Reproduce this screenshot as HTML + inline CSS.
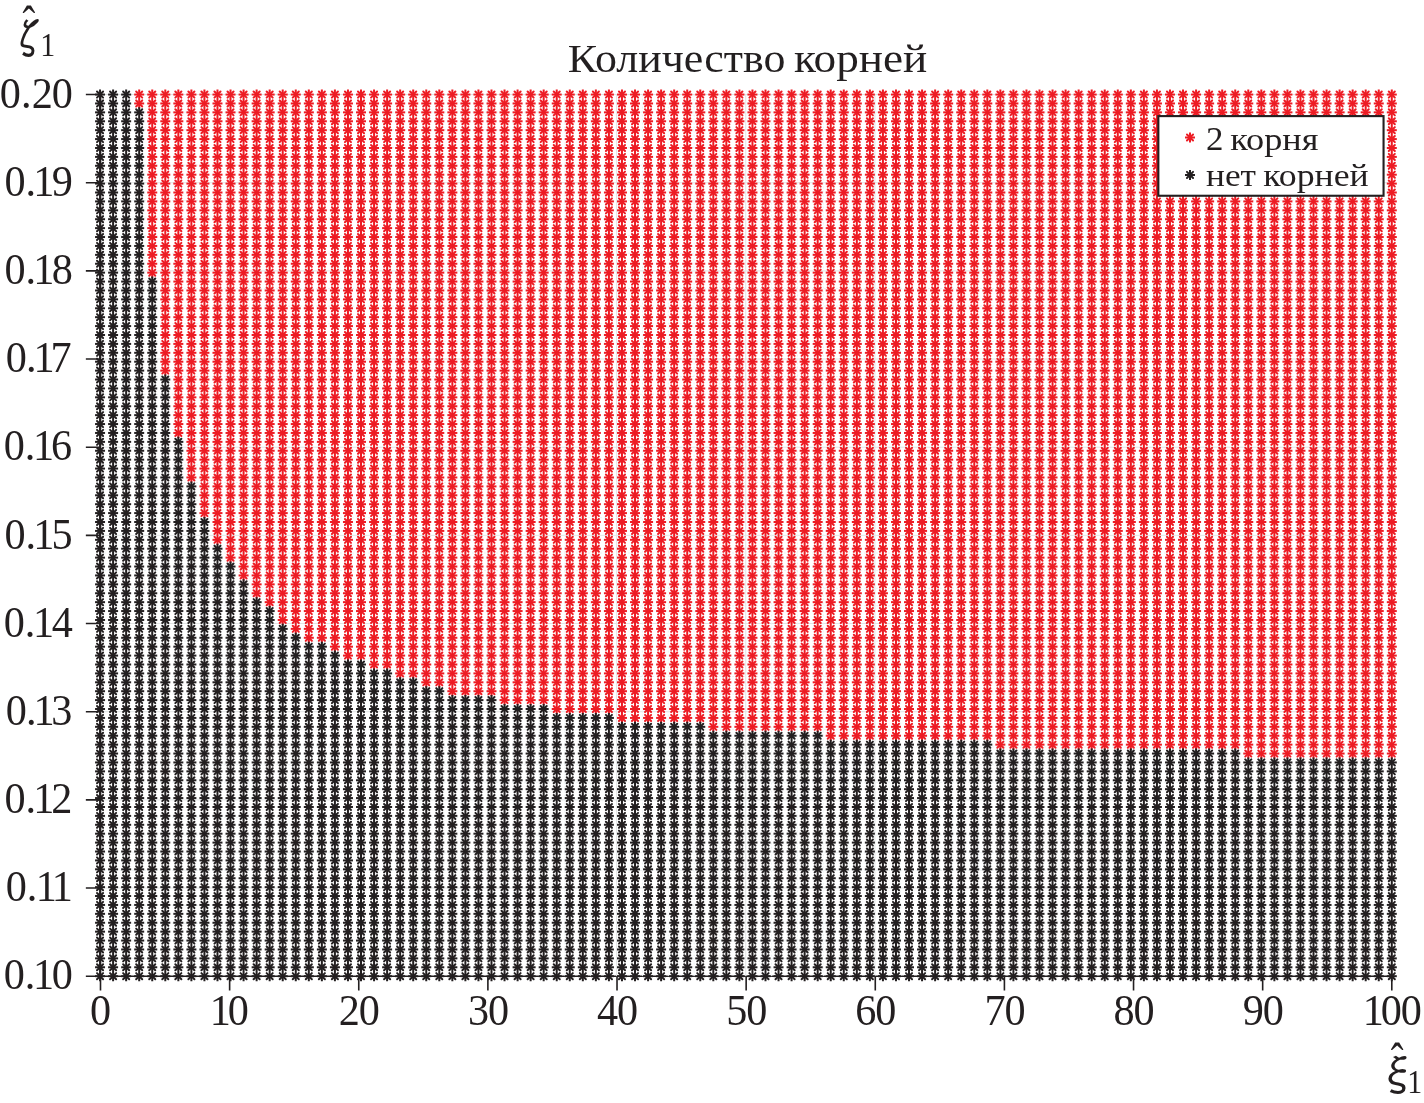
<!DOCTYPE html>
<html lang="ru">
<head>
<meta charset="utf-8">
<title>Количество корней</title>
<style>
html,body{margin:0;padding:0;background:#fff;}
body{width:1424px;height:1103px;overflow:hidden;}
svg{display:block;position:absolute;left:0;top:0;}
text{font-family:'Liberation Serif', serif;fill:#231f20;}
.g{font-family:IPAGothic,'Liberation Serif',serif;}
</style>
</head>
<body>
<svg width="1424" height="1103" viewBox="0 0 1424 1103">
<defs><marker id="r" markerWidth="12" markerHeight="12" refX="0" refY="0" viewBox="-6 -6 12 12" markerUnits="userSpaceOnUse" orient="0" overflow="visible"><path d="M-5 -0L5 0" stroke="#ed1c24" stroke-width="2.0" fill="none"/><path d="M-3.04 -3.04L3.04 3.04M3.04 -3.04L-3.04 3.04" stroke="#ed1c24" stroke-width="2.0" stroke-linecap="round" fill="none"/></marker><marker id="k" markerWidth="12" markerHeight="12" refX="0" refY="0" viewBox="-6 -6 12 12" markerUnits="userSpaceOnUse" orient="0" overflow="visible"><path d="M-5 -0L5 0" stroke="#231f20" stroke-width="2.0" fill="none"/><path d="M-3.04 -3.04L3.04 3.04M3.04 -3.04L-3.04 3.04" stroke="#231f20" stroke-width="2.0" stroke-linecap="round" fill="none"/></marker><marker id="lr" markerWidth="12" markerHeight="12" refX="0" refY="0" viewBox="-6 -6 12 12" markerUnits="userSpaceOnUse" orient="0" overflow="visible"><path d="M-5 -0L5 0M-0 -5L0 5" stroke="#ed1c24" stroke-width="2.0" fill="none"/><path d="M-3.04 -3.04L3.04 3.04M3.04 -3.04L-3.04 3.04" stroke="#ed1c24" stroke-width="2.0" stroke-linecap="round" fill="none"/></marker><marker id="lk" markerWidth="12" markerHeight="12" refX="0" refY="0" viewBox="-6 -6 12 12" markerUnits="userSpaceOnUse" orient="0" overflow="visible"><path d="M-5 -0L5 0M-0 -5L0 5" stroke="#231f20" stroke-width="2.0" fill="none"/><path d="M-3.04 -3.04L3.04 3.04M3.04 -3.04L-3.04 3.04" stroke="#231f20" stroke-width="2.0" stroke-linecap="round" fill="none"/></marker></defs>
<rect width="1424" height="1103" fill="#fff"/>
<g stroke="#231f20" stroke-width="1.6" fill="none">
<path d="M85.85 976.18H1392.6"/>
<path d="M100.5 93.75V990.58"/>
<path d="M229.63 976.18V990.58M358.76 976.18V990.58M487.89 976.18V990.58M617.02 976.18V990.58M746.15 976.18V990.58M875.28 976.18V990.58M1004.41 976.18V990.58M1133.54 976.18V990.58M1262.67 976.18V990.58M1391.8 976.18V990.58M85.85 888.02H100.05M85.85 799.85H100.05M85.85 711.69H100.05M85.85 623.53H100.05M85.85 535.37H100.05M85.85 447.2H100.05M85.85 359.04H100.05M85.85 270.88H100.05M85.85 182.71H100.05M85.85 94.55H100.05"/>
</g>
<path d="M229.23 94.55V976.18M358.36 94.55V976.18M487.49 94.55V976.18M616.62 94.55V976.18M745.75 94.55V976.18M874.88 94.55V976.18M1004.01 94.55V976.18M1133.14 94.55V976.18M1262.27 94.55V976.18M1391.4 94.55V976.18M100.05 888.02H1391.8M100.05 799.85H1391.8M100.05 711.69H1391.8M100.05 623.53H1391.8M100.05 535.37H1391.8M100.05 447.2H1391.8M100.05 359.04H1391.8M100.05 270.88H1391.8M100.05 182.71H1391.8M100.05 94.55H1391.8" stroke="#e2e5e5" stroke-width="1" fill="none"/>
<path d="M125.93 94.55V976.18M100.05 958.55H1391.8M151.75 94.55V976.18M100.05 940.91H1391.8M177.58 94.55V976.18M100.05 923.28H1391.8M203.4 94.55V976.18M100.05 905.65H1391.8M255.06 94.55V976.18M100.05 870.38H1391.8M280.88 94.55V976.18M100.05 852.75H1391.8M306.71 94.55V976.18M100.05 835.12H1391.8M332.53 94.55V976.18M100.05 817.49H1391.8M384.19 94.55V976.18M100.05 782.22H1391.8M410.01 94.55V976.18M100.05 764.59H1391.8M435.84 94.55V976.18M100.05 746.96H1391.8M461.66 94.55V976.18M100.05 729.32H1391.8M513.32 94.55V976.18M100.05 694.06H1391.8M539.14 94.55V976.18M100.05 676.43H1391.8M564.97 94.55V976.18M100.05 658.79H1391.8M590.79 94.55V976.18M100.05 641.16H1391.8M642.45 94.55V976.18M100.05 605.9H1391.8M668.27 94.55V976.18M100.05 588.26H1391.8M694.1 94.55V976.18M100.05 570.63H1391.8M719.92 94.55V976.18M100.05 553H1391.8M771.58 94.55V976.18M100.05 517.73H1391.8M797.4 94.55V976.18M100.05 500.1H1391.8M823.23 94.55V976.18M100.05 482.47H1391.8M849.05 94.55V976.18M100.05 464.83H1391.8M900.71 94.55V976.18M100.05 429.57H1391.8M926.53 94.55V976.18M100.05 411.94H1391.8M952.36 94.55V976.18M100.05 394.3H1391.8M978.18 94.55V976.18M100.05 376.67H1391.8M1029.84 94.55V976.18M100.05 341.41H1391.8M1055.66 94.55V976.18M100.05 323.77H1391.8M1081.49 94.55V976.18M100.05 306.14H1391.8M1107.31 94.55V976.18M100.05 288.51H1391.8M1158.97 94.55V976.18M100.05 253.24H1391.8M1184.79 94.55V976.18M100.05 235.61H1391.8M1210.62 94.55V976.18M100.05 217.98H1391.8M1236.44 94.55V976.18M100.05 200.35H1391.8M1288.1 94.55V976.18M100.05 165.08H1391.8M1313.92 94.55V976.18M100.05 147.45H1391.8M1339.75 94.55V976.18M100.05 129.82H1391.8M1365.57 94.55V976.18M100.05 112.18H1391.8" stroke="#eaf1f2" stroke-width="0.9" stroke-dasharray="2 2" fill="none"/>
<path d="M139.19 89.55V108.46M152.24 89.55V277.66M165.29 89.55V375.62M178.34 89.55V437.95M191.39 89.55V482.48M204.43 89.55V518.1M217.48 89.55V544.82M230.53 89.55V562.63M243.58 89.55V580.44M256.63 89.55V598.25M269.67 89.55V607.16M282.72 89.55V624.97M295.77 89.55V633.87M308.82 89.55V642.78M321.87 89.55V642.78M334.91 89.55V651.68M347.96 89.55V660.59M361.01 89.55V660.59M374.06 89.55V669.49M387.11 89.55V669.49M400.15 89.55V678.4M413.2 89.55V678.4M426.25 89.55V687.3M439.3 89.55V687.3M452.35 89.55V696.21M465.39 89.55V696.21M478.44 89.55V696.21M491.49 89.55V696.21M504.54 89.55V705.11M517.59 89.55V705.11M530.63 89.55V705.11M543.68 89.55V705.11M556.73 89.55V714.02M569.78 89.55V714.02M582.83 89.55V714.02M595.87 89.55V714.02M608.92 89.55V714.02M621.97 89.55V722.92M635.02 89.55V722.92M648.07 89.55V722.92M661.11 89.55V722.92M674.16 89.55V722.92M687.21 89.55V722.92M700.26 89.55V722.92M713.31 89.55V731.83M726.35 89.55V731.83M739.4 89.55V731.83M752.45 89.55V731.83M765.5 89.55V731.83M778.54 89.55V731.83M791.59 89.55V731.83M804.64 89.55V731.83M817.69 89.55V731.83M830.74 89.55V740.74M843.78 89.55V740.74M856.83 89.55V740.74M869.88 89.55V740.74M882.93 89.55V740.74M895.98 89.55V740.74M909.02 89.55V740.74M922.07 89.55V740.74M935.12 89.55V740.74M948.17 89.55V740.74M961.22 89.55V740.74M974.26 89.55V740.74M987.31 89.55V740.74M1000.36 89.55V749.64M1013.41 89.55V749.64M1026.46 89.55V749.64M1039.5 89.55V749.64M1052.55 89.55V749.64M1065.6 89.55V749.64M1078.65 89.55V749.64M1091.7 89.55V749.64M1104.74 89.55V749.64M1117.79 89.55V749.64M1130.84 89.55V749.64M1143.89 89.55V749.64M1156.94 89.55V749.64M1169.98 89.55V749.64M1183.03 89.55V749.64M1196.08 89.55V749.64M1209.13 89.55V749.64M1222.18 89.55V749.64M1235.22 89.55V749.64M1248.27 89.55V758.55M1261.32 89.55V758.55M1274.37 89.55V758.55M1287.42 89.55V758.55M1300.46 89.55V758.55M1313.51 89.55V758.55M1326.56 89.55V758.55M1339.61 89.55V758.55M1352.66 89.55V758.55M1365.7 89.55V758.55M1378.75 89.55V758.55M1391.8 89.55V758.55" fill="none" stroke="#ed1c24" stroke-width="2.0"/>
<path d="M139.19 94.55V103.46M152.24 94.55V103.46 112.36 121.27 130.17 139.08 147.98 156.89 165.79 174.7 183.6 192.51 201.41 210.32 219.22 228.13 237.04 245.94 254.85 263.75 272.66M165.29 94.55V103.46 112.36 121.27 130.17 139.08 147.98 156.89 165.79 174.7 183.6 192.51 201.41 210.32 219.22 228.13 237.04 245.94 254.85 263.75 272.66 281.56 290.47 299.37 308.28 317.18 326.09 334.99 343.9 352.81 361.71 370.62M178.34 94.55V103.46 112.36 121.27 130.17 139.08 147.98 156.89 165.79 174.7 183.6 192.51 201.41 210.32 219.22 228.13 237.04 245.94 254.85 263.75 272.66 281.56 290.47 299.37 308.28 317.18 326.09 334.99 343.9 352.81 361.71 370.62 379.52 388.43 397.33 406.24 415.14 424.05 432.95M191.39 94.55V103.46 112.36 121.27 130.17 139.08 147.98 156.89 165.79 174.7 183.6 192.51 201.41 210.32 219.22 228.13 237.04 245.94 254.85 263.75 272.66 281.56 290.47 299.37 308.28 317.18 326.09 334.99 343.9 352.81 361.71 370.62 379.52 388.43 397.33 406.24 415.14 424.05 432.95 441.86 450.76 459.67 468.57 477.48M204.43 94.55V103.46 112.36 121.27 130.17 139.08 147.98 156.89 165.79 174.7 183.6 192.51 201.41 210.32 219.22 228.13 237.04 245.94 254.85 263.75 272.66 281.56 290.47 299.37 308.28 317.18 326.09 334.99 343.9 352.81 361.71 370.62 379.52 388.43 397.33 406.24 415.14 424.05 432.95 441.86 450.76 459.67 468.57 477.48 486.39 495.29 504.2 513.1M217.48 94.55V103.46 112.36 121.27 130.17 139.08 147.98 156.89 165.79 174.7 183.6 192.51 201.41 210.32 219.22 228.13 237.04 245.94 254.85 263.75 272.66 281.56 290.47 299.37 308.28 317.18 326.09 334.99 343.9 352.81 361.71 370.62 379.52 388.43 397.33 406.24 415.14 424.05 432.95 441.86 450.76 459.67 468.57 477.48 486.39 495.29 504.2 513.1 522.01 530.91 539.82M230.53 94.55V103.46 112.36 121.27 130.17 139.08 147.98 156.89 165.79 174.7 183.6 192.51 201.41 210.32 219.22 228.13 237.04 245.94 254.85 263.75 272.66 281.56 290.47 299.37 308.28 317.18 326.09 334.99 343.9 352.81 361.71 370.62 379.52 388.43 397.33 406.24 415.14 424.05 432.95 441.86 450.76 459.67 468.57 477.48 486.39 495.29 504.2 513.1 522.01 530.91 539.82 548.72 557.63M243.58 94.55V103.46 112.36 121.27 130.17 139.08 147.98 156.89 165.79 174.7 183.6 192.51 201.41 210.32 219.22 228.13 237.04 245.94 254.85 263.75 272.66 281.56 290.47 299.37 308.28 317.18 326.09 334.99 343.9 352.81 361.71 370.62 379.52 388.43 397.33 406.24 415.14 424.05 432.95 441.86 450.76 459.67 468.57 477.48 486.39 495.29 504.2 513.1 522.01 530.91 539.82 548.72 557.63 566.53 575.44M256.63 94.55V103.46 112.36 121.27 130.17 139.08 147.98 156.89 165.79 174.7 183.6 192.51 201.41 210.32 219.22 228.13 237.04 245.94 254.85 263.75 272.66 281.56 290.47 299.37 308.28 317.18 326.09 334.99 343.9 352.81 361.71 370.62 379.52 388.43 397.33 406.24 415.14 424.05 432.95 441.86 450.76 459.67 468.57 477.48 486.39 495.29 504.2 513.1 522.01 530.91 539.82 548.72 557.63 566.53 575.44 584.34 593.25M269.67 94.55V103.46 112.36 121.27 130.17 139.08 147.98 156.89 165.79 174.7 183.6 192.51 201.41 210.32 219.22 228.13 237.04 245.94 254.85 263.75 272.66 281.56 290.47 299.37 308.28 317.18 326.09 334.99 343.9 352.81 361.71 370.62 379.52 388.43 397.33 406.24 415.14 424.05 432.95 441.86 450.76 459.67 468.57 477.48 486.39 495.29 504.2 513.1 522.01 530.91 539.82 548.72 557.63 566.53 575.44 584.34 593.25 602.16M282.72 94.55V103.46 112.36 121.27 130.17 139.08 147.98 156.89 165.79 174.7 183.6 192.51 201.41 210.32 219.22 228.13 237.04 245.94 254.85 263.75 272.66 281.56 290.47 299.37 308.28 317.18 326.09 334.99 343.9 352.81 361.71 370.62 379.52 388.43 397.33 406.24 415.14 424.05 432.95 441.86 450.76 459.67 468.57 477.48 486.39 495.29 504.2 513.1 522.01 530.91 539.82 548.72 557.63 566.53 575.44 584.34 593.25 602.16 611.06 619.97M295.77 94.55V103.46 112.36 121.27 130.17 139.08 147.98 156.89 165.79 174.7 183.6 192.51 201.41 210.32 219.22 228.13 237.04 245.94 254.85 263.75 272.66 281.56 290.47 299.37 308.28 317.18 326.09 334.99 343.9 352.81 361.71 370.62 379.52 388.43 397.33 406.24 415.14 424.05 432.95 441.86 450.76 459.67 468.57 477.48 486.39 495.29 504.2 513.1 522.01 530.91 539.82 548.72 557.63 566.53 575.44 584.34 593.25 602.16 611.06 619.97 628.87M308.82 94.55V103.46 112.36 121.27 130.17 139.08 147.98 156.89 165.79 174.7 183.6 192.51 201.41 210.32 219.22 228.13 237.04 245.94 254.85 263.75 272.66 281.56 290.47 299.37 308.28 317.18 326.09 334.99 343.9 352.81 361.71 370.62 379.52 388.43 397.33 406.24 415.14 424.05 432.95 441.86 450.76 459.67 468.57 477.48 486.39 495.29 504.2 513.1 522.01 530.91 539.82 548.72 557.63 566.53 575.44 584.34 593.25 602.16 611.06 619.97 628.87 637.78M321.87 94.55V103.46 112.36 121.27 130.17 139.08 147.98 156.89 165.79 174.7 183.6 192.51 201.41 210.32 219.22 228.13 237.04 245.94 254.85 263.75 272.66 281.56 290.47 299.37 308.28 317.18 326.09 334.99 343.9 352.81 361.71 370.62 379.52 388.43 397.33 406.24 415.14 424.05 432.95 441.86 450.76 459.67 468.57 477.48 486.39 495.29 504.2 513.1 522.01 530.91 539.82 548.72 557.63 566.53 575.44 584.34 593.25 602.16 611.06 619.97 628.87 637.78M334.91 94.55V103.46 112.36 121.27 130.17 139.08 147.98 156.89 165.79 174.7 183.6 192.51 201.41 210.32 219.22 228.13 237.04 245.94 254.85 263.75 272.66 281.56 290.47 299.37 308.28 317.18 326.09 334.99 343.9 352.81 361.71 370.62 379.52 388.43 397.33 406.24 415.14 424.05 432.95 441.86 450.76 459.67 468.57 477.48 486.39 495.29 504.2 513.1 522.01 530.91 539.82 548.72 557.63 566.53 575.44 584.34 593.25 602.16 611.06 619.97 628.87 637.78 646.68M347.96 94.55V103.46 112.36 121.27 130.17 139.08 147.98 156.89 165.79 174.7 183.6 192.51 201.41 210.32 219.22 228.13 237.04 245.94 254.85 263.75 272.66 281.56 290.47 299.37 308.28 317.18 326.09 334.99 343.9 352.81 361.71 370.62 379.52 388.43 397.33 406.24 415.14 424.05 432.95 441.86 450.76 459.67 468.57 477.48 486.39 495.29 504.2 513.1 522.01 530.91 539.82 548.72 557.63 566.53 575.44 584.34 593.25 602.16 611.06 619.97 628.87 637.78 646.68 655.59M361.01 94.55V103.46 112.36 121.27 130.17 139.08 147.98 156.89 165.79 174.7 183.6 192.51 201.41 210.32 219.22 228.13 237.04 245.94 254.85 263.75 272.66 281.56 290.47 299.37 308.28 317.18 326.09 334.99 343.9 352.81 361.71 370.62 379.52 388.43 397.33 406.24 415.14 424.05 432.95 441.86 450.76 459.67 468.57 477.48 486.39 495.29 504.2 513.1 522.01 530.91 539.82 548.72 557.63 566.53 575.44 584.34 593.25 602.16 611.06 619.97 628.87 637.78 646.68 655.59M374.06 94.55V103.46 112.36 121.27 130.17 139.08 147.98 156.89 165.79 174.7 183.6 192.51 201.41 210.32 219.22 228.13 237.04 245.94 254.85 263.75 272.66 281.56 290.47 299.37 308.28 317.18 326.09 334.99 343.9 352.81 361.71 370.62 379.52 388.43 397.33 406.24 415.14 424.05 432.95 441.86 450.76 459.67 468.57 477.48 486.39 495.29 504.2 513.1 522.01 530.91 539.82 548.72 557.63 566.53 575.44 584.34 593.25 602.16 611.06 619.97 628.87 637.78 646.68 655.59 664.49M387.11 94.55V103.46 112.36 121.27 130.17 139.08 147.98 156.89 165.79 174.7 183.6 192.51 201.41 210.32 219.22 228.13 237.04 245.94 254.85 263.75 272.66 281.56 290.47 299.37 308.28 317.18 326.09 334.99 343.9 352.81 361.71 370.62 379.52 388.43 397.33 406.24 415.14 424.05 432.95 441.86 450.76 459.67 468.57 477.48 486.39 495.29 504.2 513.1 522.01 530.91 539.82 548.72 557.63 566.53 575.44 584.34 593.25 602.16 611.06 619.97 628.87 637.78 646.68 655.59 664.49M400.15 94.55V103.46 112.36 121.27 130.17 139.08 147.98 156.89 165.79 174.7 183.6 192.51 201.41 210.32 219.22 228.13 237.04 245.94 254.85 263.75 272.66 281.56 290.47 299.37 308.28 317.18 326.09 334.99 343.9 352.81 361.71 370.62 379.52 388.43 397.33 406.24 415.14 424.05 432.95 441.86 450.76 459.67 468.57 477.48 486.39 495.29 504.2 513.1 522.01 530.91 539.82 548.72 557.63 566.53 575.44 584.34 593.25 602.16 611.06 619.97 628.87 637.78 646.68 655.59 664.49 673.4M413.2 94.55V103.46 112.36 121.27 130.17 139.08 147.98 156.89 165.79 174.7 183.6 192.51 201.41 210.32 219.22 228.13 237.04 245.94 254.85 263.75 272.66 281.56 290.47 299.37 308.28 317.18 326.09 334.99 343.9 352.81 361.71 370.62 379.52 388.43 397.33 406.24 415.14 424.05 432.95 441.86 450.76 459.67 468.57 477.48 486.39 495.29 504.2 513.1 522.01 530.91 539.82 548.72 557.63 566.53 575.44 584.34 593.25 602.16 611.06 619.97 628.87 637.78 646.68 655.59 664.49 673.4M426.25 94.55V103.46 112.36 121.27 130.17 139.08 147.98 156.89 165.79 174.7 183.6 192.51 201.41 210.32 219.22 228.13 237.04 245.94 254.85 263.75 272.66 281.56 290.47 299.37 308.28 317.18 326.09 334.99 343.9 352.81 361.71 370.62 379.52 388.43 397.33 406.24 415.14 424.05 432.95 441.86 450.76 459.67 468.57 477.48 486.39 495.29 504.2 513.1 522.01 530.91 539.82 548.72 557.63 566.53 575.44 584.34 593.25 602.16 611.06 619.97 628.87 637.78 646.68 655.59 664.49 673.4 682.3M439.3 94.55V103.46 112.36 121.27 130.17 139.08 147.98 156.89 165.79 174.7 183.6 192.51 201.41 210.32 219.22 228.13 237.04 245.94 254.85 263.75 272.66 281.56 290.47 299.37 308.28 317.18 326.09 334.99 343.9 352.81 361.71 370.62 379.52 388.43 397.33 406.24 415.14 424.05 432.95 441.86 450.76 459.67 468.57 477.48 486.39 495.29 504.2 513.1 522.01 530.91 539.82 548.72 557.63 566.53 575.44 584.34 593.25 602.16 611.06 619.97 628.87 637.78 646.68 655.59 664.49 673.4 682.3M452.35 94.55V103.46 112.36 121.27 130.17 139.08 147.98 156.89 165.79 174.7 183.6 192.51 201.41 210.32 219.22 228.13 237.04 245.94 254.85 263.75 272.66 281.56 290.47 299.37 308.28 317.18 326.09 334.99 343.9 352.81 361.71 370.62 379.52 388.43 397.33 406.24 415.14 424.05 432.95 441.86 450.76 459.67 468.57 477.48 486.39 495.29 504.2 513.1 522.01 530.91 539.82 548.72 557.63 566.53 575.44 584.34 593.25 602.16 611.06 619.97 628.87 637.78 646.68 655.59 664.49 673.4 682.3 691.21M465.39 94.55V103.46 112.36 121.27 130.17 139.08 147.98 156.89 165.79 174.7 183.6 192.51 201.41 210.32 219.22 228.13 237.04 245.94 254.85 263.75 272.66 281.56 290.47 299.37 308.28 317.18 326.09 334.99 343.9 352.81 361.71 370.62 379.52 388.43 397.33 406.24 415.14 424.05 432.95 441.86 450.76 459.67 468.57 477.48 486.39 495.29 504.2 513.1 522.01 530.91 539.82 548.72 557.63 566.53 575.44 584.34 593.25 602.16 611.06 619.97 628.87 637.78 646.68 655.59 664.49 673.4 682.3 691.21M478.44 94.55V103.46 112.36 121.27 130.17 139.08 147.98 156.89 165.79 174.7 183.6 192.51 201.41 210.32 219.22 228.13 237.04 245.94 254.85 263.75 272.66 281.56 290.47 299.37 308.28 317.18 326.09 334.99 343.9 352.81 361.71 370.62 379.52 388.43 397.33 406.24 415.14 424.05 432.95 441.86 450.76 459.67 468.57 477.48 486.39 495.29 504.2 513.1 522.01 530.91 539.82 548.72 557.63 566.53 575.44 584.34 593.25 602.16 611.06 619.97 628.87 637.78 646.68 655.59 664.49 673.4 682.3 691.21M491.49 94.55V103.46 112.36 121.27 130.17 139.08 147.98 156.89 165.79 174.7 183.6 192.51 201.41 210.32 219.22 228.13 237.04 245.94 254.85 263.75 272.66 281.56 290.47 299.37 308.28 317.18 326.09 334.99 343.9 352.81 361.71 370.62 379.52 388.43 397.33 406.24 415.14 424.05 432.95 441.86 450.76 459.67 468.57 477.48 486.39 495.29 504.2 513.1 522.01 530.91 539.82 548.72 557.63 566.53 575.44 584.34 593.25 602.16 611.06 619.97 628.87 637.78 646.68 655.59 664.49 673.4 682.3 691.21M504.54 94.55V103.46 112.36 121.27 130.17 139.08 147.98 156.89 165.79 174.7 183.6 192.51 201.41 210.32 219.22 228.13 237.04 245.94 254.85 263.75 272.66 281.56 290.47 299.37 308.28 317.18 326.09 334.99 343.9 352.81 361.71 370.62 379.52 388.43 397.33 406.24 415.14 424.05 432.95 441.86 450.76 459.67 468.57 477.48 486.39 495.29 504.2 513.1 522.01 530.91 539.82 548.72 557.63 566.53 575.44 584.34 593.25 602.16 611.06 619.97 628.87 637.78 646.68 655.59 664.49 673.4 682.3 691.21 700.11M517.59 94.55V103.46 112.36 121.27 130.17 139.08 147.98 156.89 165.79 174.7 183.6 192.51 201.41 210.32 219.22 228.13 237.04 245.94 254.85 263.75 272.66 281.56 290.47 299.37 308.28 317.18 326.09 334.99 343.9 352.81 361.71 370.62 379.52 388.43 397.33 406.24 415.14 424.05 432.95 441.86 450.76 459.67 468.57 477.48 486.39 495.29 504.2 513.1 522.01 530.91 539.82 548.72 557.63 566.53 575.44 584.34 593.25 602.16 611.06 619.97 628.87 637.78 646.68 655.59 664.49 673.4 682.3 691.21 700.11M530.63 94.55V103.46 112.36 121.27 130.17 139.08 147.98 156.89 165.79 174.7 183.6 192.51 201.41 210.32 219.22 228.13 237.04 245.94 254.85 263.75 272.66 281.56 290.47 299.37 308.28 317.18 326.09 334.99 343.9 352.81 361.71 370.62 379.52 388.43 397.33 406.24 415.14 424.05 432.95 441.86 450.76 459.67 468.57 477.48 486.39 495.29 504.2 513.1 522.01 530.91 539.82 548.72 557.63 566.53 575.44 584.34 593.25 602.16 611.06 619.97 628.87 637.78 646.68 655.59 664.49 673.4 682.3 691.21 700.11M543.68 94.55V103.46 112.36 121.27 130.17 139.08 147.98 156.89 165.79 174.7 183.6 192.51 201.41 210.32 219.22 228.13 237.04 245.94 254.85 263.75 272.66 281.56 290.47 299.37 308.28 317.18 326.09 334.99 343.9 352.81 361.71 370.62 379.52 388.43 397.33 406.24 415.14 424.05 432.95 441.86 450.76 459.67 468.57 477.48 486.39 495.29 504.2 513.1 522.01 530.91 539.82 548.72 557.63 566.53 575.44 584.34 593.25 602.16 611.06 619.97 628.87 637.78 646.68 655.59 664.49 673.4 682.3 691.21 700.11M556.73 94.55V103.46 112.36 121.27 130.17 139.08 147.98 156.89 165.79 174.7 183.6 192.51 201.41 210.32 219.22 228.13 237.04 245.94 254.85 263.75 272.66 281.56 290.47 299.37 308.28 317.18 326.09 334.99 343.9 352.81 361.71 370.62 379.52 388.43 397.33 406.24 415.14 424.05 432.95 441.86 450.76 459.67 468.57 477.48 486.39 495.29 504.2 513.1 522.01 530.91 539.82 548.72 557.63 566.53 575.44 584.34 593.25 602.16 611.06 619.97 628.87 637.78 646.68 655.59 664.49 673.4 682.3 691.21 700.11 709.02M569.78 94.55V103.46 112.36 121.27 130.17 139.08 147.98 156.89 165.79 174.7 183.6 192.51 201.41 210.32 219.22 228.13 237.04 245.94 254.85 263.75 272.66 281.56 290.47 299.37 308.28 317.18 326.09 334.99 343.9 352.81 361.71 370.62 379.52 388.43 397.33 406.24 415.14 424.05 432.95 441.86 450.76 459.67 468.57 477.48 486.39 495.29 504.2 513.1 522.01 530.91 539.82 548.72 557.63 566.53 575.44 584.34 593.25 602.16 611.06 619.97 628.87 637.78 646.68 655.59 664.49 673.4 682.3 691.21 700.11 709.02M582.83 94.55V103.46 112.36 121.27 130.17 139.08 147.98 156.89 165.79 174.7 183.6 192.51 201.41 210.32 219.22 228.13 237.04 245.94 254.85 263.75 272.66 281.56 290.47 299.37 308.28 317.18 326.09 334.99 343.9 352.81 361.71 370.62 379.52 388.43 397.33 406.24 415.14 424.05 432.95 441.86 450.76 459.67 468.57 477.48 486.39 495.29 504.2 513.1 522.01 530.91 539.82 548.72 557.63 566.53 575.44 584.34 593.25 602.16 611.06 619.97 628.87 637.78 646.68 655.59 664.49 673.4 682.3 691.21 700.11 709.02M595.87 94.55V103.46 112.36 121.27 130.17 139.08 147.98 156.89 165.79 174.7 183.6 192.51 201.41 210.32 219.22 228.13 237.04 245.94 254.85 263.75 272.66 281.56 290.47 299.37 308.28 317.18 326.09 334.99 343.9 352.81 361.71 370.62 379.52 388.43 397.33 406.24 415.14 424.05 432.95 441.86 450.76 459.67 468.57 477.48 486.39 495.29 504.2 513.1 522.01 530.91 539.82 548.72 557.63 566.53 575.44 584.34 593.25 602.16 611.06 619.97 628.87 637.78 646.68 655.59 664.49 673.4 682.3 691.21 700.11 709.02M608.92 94.55V103.46 112.36 121.27 130.17 139.08 147.98 156.89 165.79 174.7 183.6 192.51 201.41 210.32 219.22 228.13 237.04 245.94 254.85 263.75 272.66 281.56 290.47 299.37 308.28 317.18 326.09 334.99 343.9 352.81 361.71 370.62 379.52 388.43 397.33 406.24 415.14 424.05 432.95 441.86 450.76 459.67 468.57 477.48 486.39 495.29 504.2 513.1 522.01 530.91 539.82 548.72 557.63 566.53 575.44 584.34 593.25 602.16 611.06 619.97 628.87 637.78 646.68 655.59 664.49 673.4 682.3 691.21 700.11 709.02M621.97 94.55V103.46 112.36 121.27 130.17 139.08 147.98 156.89 165.79 174.7 183.6 192.51 201.41 210.32 219.22 228.13 237.04 245.94 254.85 263.75 272.66 281.56 290.47 299.37 308.28 317.18 326.09 334.99 343.9 352.81 361.71 370.62 379.52 388.43 397.33 406.24 415.14 424.05 432.95 441.86 450.76 459.67 468.57 477.48 486.39 495.29 504.2 513.1 522.01 530.91 539.82 548.72 557.63 566.53 575.44 584.34 593.25 602.16 611.06 619.97 628.87 637.78 646.68 655.59 664.49 673.4 682.3 691.21 700.11 709.02 717.92M635.02 94.55V103.46 112.36 121.27 130.17 139.08 147.98 156.89 165.79 174.7 183.6 192.51 201.41 210.32 219.22 228.13 237.04 245.94 254.85 263.75 272.66 281.56 290.47 299.37 308.28 317.18 326.09 334.99 343.9 352.81 361.71 370.62 379.52 388.43 397.33 406.24 415.14 424.05 432.95 441.86 450.76 459.67 468.57 477.48 486.39 495.29 504.2 513.1 522.01 530.91 539.82 548.72 557.63 566.53 575.44 584.34 593.25 602.16 611.06 619.97 628.87 637.78 646.68 655.59 664.49 673.4 682.3 691.21 700.11 709.02 717.92M648.07 94.55V103.46 112.36 121.27 130.17 139.08 147.98 156.89 165.79 174.7 183.6 192.51 201.41 210.32 219.22 228.13 237.04 245.94 254.85 263.75 272.66 281.56 290.47 299.37 308.28 317.18 326.09 334.99 343.9 352.81 361.71 370.62 379.52 388.43 397.33 406.24 415.14 424.05 432.95 441.86 450.76 459.67 468.57 477.48 486.39 495.29 504.2 513.1 522.01 530.91 539.82 548.72 557.63 566.53 575.44 584.34 593.25 602.16 611.06 619.97 628.87 637.78 646.68 655.59 664.49 673.4 682.3 691.21 700.11 709.02 717.92M661.11 94.55V103.46 112.36 121.27 130.17 139.08 147.98 156.89 165.79 174.7 183.6 192.51 201.41 210.32 219.22 228.13 237.04 245.94 254.85 263.75 272.66 281.56 290.47 299.37 308.28 317.18 326.09 334.99 343.9 352.81 361.71 370.62 379.52 388.43 397.33 406.24 415.14 424.05 432.95 441.86 450.76 459.67 468.57 477.48 486.39 495.29 504.2 513.1 522.01 530.91 539.82 548.72 557.63 566.53 575.44 584.34 593.25 602.16 611.06 619.97 628.87 637.78 646.68 655.59 664.49 673.4 682.3 691.21 700.11 709.02 717.92M674.16 94.55V103.46 112.36 121.27 130.17 139.08 147.98 156.89 165.79 174.7 183.6 192.51 201.41 210.32 219.22 228.13 237.04 245.94 254.85 263.75 272.66 281.56 290.47 299.37 308.28 317.18 326.09 334.99 343.9 352.81 361.71 370.62 379.52 388.43 397.33 406.24 415.14 424.05 432.95 441.86 450.76 459.67 468.57 477.48 486.39 495.29 504.2 513.1 522.01 530.91 539.82 548.72 557.63 566.53 575.44 584.34 593.25 602.16 611.06 619.97 628.87 637.78 646.68 655.59 664.49 673.4 682.3 691.21 700.11 709.02 717.92M687.21 94.55V103.46 112.36 121.27 130.17 139.08 147.98 156.89 165.79 174.7 183.6 192.51 201.41 210.32 219.22 228.13 237.04 245.94 254.85 263.75 272.66 281.56 290.47 299.37 308.28 317.18 326.09 334.99 343.9 352.81 361.71 370.62 379.52 388.43 397.33 406.24 415.14 424.05 432.95 441.86 450.76 459.67 468.57 477.48 486.39 495.29 504.2 513.1 522.01 530.91 539.82 548.72 557.63 566.53 575.44 584.34 593.25 602.16 611.06 619.97 628.87 637.78 646.68 655.59 664.49 673.4 682.3 691.21 700.11 709.02 717.92M700.26 94.55V103.46 112.36 121.27 130.17 139.08 147.98 156.89 165.79 174.7 183.6 192.51 201.41 210.32 219.22 228.13 237.04 245.94 254.85 263.75 272.66 281.56 290.47 299.37 308.28 317.18 326.09 334.99 343.9 352.81 361.71 370.62 379.52 388.43 397.33 406.24 415.14 424.05 432.95 441.86 450.76 459.67 468.57 477.48 486.39 495.29 504.2 513.1 522.01 530.91 539.82 548.72 557.63 566.53 575.44 584.34 593.25 602.16 611.06 619.97 628.87 637.78 646.68 655.59 664.49 673.4 682.3 691.21 700.11 709.02 717.92M713.31 94.55V103.46 112.36 121.27 130.17 139.08 147.98 156.89 165.79 174.7 183.6 192.51 201.41 210.32 219.22 228.13 237.04 245.94 254.85 263.75 272.66 281.56 290.47 299.37 308.28 317.18 326.09 334.99 343.9 352.81 361.71 370.62 379.52 388.43 397.33 406.24 415.14 424.05 432.95 441.86 450.76 459.67 468.57 477.48 486.39 495.29 504.2 513.1 522.01 530.91 539.82 548.72 557.63 566.53 575.44 584.34 593.25 602.16 611.06 619.97 628.87 637.78 646.68 655.59 664.49 673.4 682.3 691.21 700.11 709.02 717.92 726.83M726.35 94.55V103.46 112.36 121.27 130.17 139.08 147.98 156.89 165.79 174.7 183.6 192.51 201.41 210.32 219.22 228.13 237.04 245.94 254.85 263.75 272.66 281.56 290.47 299.37 308.28 317.18 326.09 334.99 343.9 352.81 361.71 370.62 379.52 388.43 397.33 406.24 415.14 424.05 432.95 441.86 450.76 459.67 468.57 477.48 486.39 495.29 504.2 513.1 522.01 530.91 539.82 548.72 557.63 566.53 575.44 584.34 593.25 602.16 611.06 619.97 628.87 637.78 646.68 655.59 664.49 673.4 682.3 691.21 700.11 709.02 717.92 726.83M739.4 94.55V103.46 112.36 121.27 130.17 139.08 147.98 156.89 165.79 174.7 183.6 192.51 201.41 210.32 219.22 228.13 237.04 245.94 254.85 263.75 272.66 281.56 290.47 299.37 308.28 317.18 326.09 334.99 343.9 352.81 361.71 370.62 379.52 388.43 397.33 406.24 415.14 424.05 432.95 441.86 450.76 459.67 468.57 477.48 486.39 495.29 504.2 513.1 522.01 530.91 539.82 548.72 557.63 566.53 575.44 584.34 593.25 602.16 611.06 619.97 628.87 637.78 646.68 655.59 664.49 673.4 682.3 691.21 700.11 709.02 717.92 726.83M752.45 94.55V103.46 112.36 121.27 130.17 139.08 147.98 156.89 165.79 174.7 183.6 192.51 201.41 210.32 219.22 228.13 237.04 245.94 254.85 263.75 272.66 281.56 290.47 299.37 308.28 317.18 326.09 334.99 343.9 352.81 361.71 370.62 379.52 388.43 397.33 406.24 415.14 424.05 432.95 441.86 450.76 459.67 468.57 477.48 486.39 495.29 504.2 513.1 522.01 530.91 539.82 548.72 557.63 566.53 575.44 584.34 593.25 602.16 611.06 619.97 628.87 637.78 646.68 655.59 664.49 673.4 682.3 691.21 700.11 709.02 717.92 726.83M765.5 94.55V103.46 112.36 121.27 130.17 139.08 147.98 156.89 165.79 174.7 183.6 192.51 201.41 210.32 219.22 228.13 237.04 245.94 254.85 263.75 272.66 281.56 290.47 299.37 308.28 317.18 326.09 334.99 343.9 352.81 361.71 370.62 379.52 388.43 397.33 406.24 415.14 424.05 432.95 441.86 450.76 459.67 468.57 477.48 486.39 495.29 504.2 513.1 522.01 530.91 539.82 548.72 557.63 566.53 575.44 584.34 593.25 602.16 611.06 619.97 628.87 637.78 646.68 655.59 664.49 673.4 682.3 691.21 700.11 709.02 717.92 726.83M778.54 94.55V103.46 112.36 121.27 130.17 139.08 147.98 156.89 165.79 174.7 183.6 192.51 201.41 210.32 219.22 228.13 237.04 245.94 254.85 263.75 272.66 281.56 290.47 299.37 308.28 317.18 326.09 334.99 343.9 352.81 361.71 370.62 379.52 388.43 397.33 406.24 415.14 424.05 432.95 441.86 450.76 459.67 468.57 477.48 486.39 495.29 504.2 513.1 522.01 530.91 539.82 548.72 557.63 566.53 575.44 584.34 593.25 602.16 611.06 619.97 628.87 637.78 646.68 655.59 664.49 673.4 682.3 691.21 700.11 709.02 717.92 726.83M791.59 94.55V103.46 112.36 121.27 130.17 139.08 147.98 156.89 165.79 174.7 183.6 192.51 201.41 210.32 219.22 228.13 237.04 245.94 254.85 263.75 272.66 281.56 290.47 299.37 308.28 317.18 326.09 334.99 343.9 352.81 361.71 370.62 379.52 388.43 397.33 406.24 415.14 424.05 432.95 441.86 450.76 459.67 468.57 477.48 486.39 495.29 504.2 513.1 522.01 530.91 539.82 548.72 557.63 566.53 575.44 584.34 593.25 602.16 611.06 619.97 628.87 637.78 646.68 655.59 664.49 673.4 682.3 691.21 700.11 709.02 717.92 726.83M804.64 94.55V103.46 112.36 121.27 130.17 139.08 147.98 156.89 165.79 174.7 183.6 192.51 201.41 210.32 219.22 228.13 237.04 245.94 254.85 263.75 272.66 281.56 290.47 299.37 308.28 317.18 326.09 334.99 343.9 352.81 361.71 370.62 379.52 388.43 397.33 406.24 415.14 424.05 432.95 441.86 450.76 459.67 468.57 477.48 486.39 495.29 504.2 513.1 522.01 530.91 539.82 548.72 557.63 566.53 575.44 584.34 593.25 602.16 611.06 619.97 628.87 637.78 646.68 655.59 664.49 673.4 682.3 691.21 700.11 709.02 717.92 726.83M817.69 94.55V103.46 112.36 121.27 130.17 139.08 147.98 156.89 165.79 174.7 183.6 192.51 201.41 210.32 219.22 228.13 237.04 245.94 254.85 263.75 272.66 281.56 290.47 299.37 308.28 317.18 326.09 334.99 343.9 352.81 361.71 370.62 379.52 388.43 397.33 406.24 415.14 424.05 432.95 441.86 450.76 459.67 468.57 477.48 486.39 495.29 504.2 513.1 522.01 530.91 539.82 548.72 557.63 566.53 575.44 584.34 593.25 602.16 611.06 619.97 628.87 637.78 646.68 655.59 664.49 673.4 682.3 691.21 700.11 709.02 717.92 726.83M830.74 94.55V103.46 112.36 121.27 130.17 139.08 147.98 156.89 165.79 174.7 183.6 192.51 201.41 210.32 219.22 228.13 237.04 245.94 254.85 263.75 272.66 281.56 290.47 299.37 308.28 317.18 326.09 334.99 343.9 352.81 361.71 370.62 379.52 388.43 397.33 406.24 415.14 424.05 432.95 441.86 450.76 459.67 468.57 477.48 486.39 495.29 504.2 513.1 522.01 530.91 539.82 548.72 557.63 566.53 575.44 584.34 593.25 602.16 611.06 619.97 628.87 637.78 646.68 655.59 664.49 673.4 682.3 691.21 700.11 709.02 717.92 726.83 735.74M843.78 94.55V103.46 112.36 121.27 130.17 139.08 147.98 156.89 165.79 174.7 183.6 192.51 201.41 210.32 219.22 228.13 237.04 245.94 254.85 263.75 272.66 281.56 290.47 299.37 308.28 317.18 326.09 334.99 343.9 352.81 361.71 370.62 379.52 388.43 397.33 406.24 415.14 424.05 432.95 441.86 450.76 459.67 468.57 477.48 486.39 495.29 504.2 513.1 522.01 530.91 539.82 548.72 557.63 566.53 575.44 584.34 593.25 602.16 611.06 619.97 628.87 637.78 646.68 655.59 664.49 673.4 682.3 691.21 700.11 709.02 717.92 726.83 735.74M856.83 94.55V103.46 112.36 121.27 130.17 139.08 147.98 156.89 165.79 174.7 183.6 192.51 201.41 210.32 219.22 228.13 237.04 245.94 254.85 263.75 272.66 281.56 290.47 299.37 308.28 317.18 326.09 334.99 343.9 352.81 361.71 370.62 379.52 388.43 397.33 406.24 415.14 424.05 432.95 441.86 450.76 459.67 468.57 477.48 486.39 495.29 504.2 513.1 522.01 530.91 539.82 548.72 557.63 566.53 575.44 584.34 593.25 602.16 611.06 619.97 628.87 637.78 646.68 655.59 664.49 673.4 682.3 691.21 700.11 709.02 717.92 726.83 735.74M869.88 94.55V103.46 112.36 121.27 130.17 139.08 147.98 156.89 165.79 174.7 183.6 192.51 201.41 210.32 219.22 228.13 237.04 245.94 254.85 263.75 272.66 281.56 290.47 299.37 308.28 317.18 326.09 334.99 343.9 352.81 361.71 370.62 379.52 388.43 397.33 406.24 415.14 424.05 432.95 441.86 450.76 459.67 468.57 477.48 486.39 495.29 504.2 513.1 522.01 530.91 539.82 548.72 557.63 566.53 575.44 584.34 593.25 602.16 611.06 619.97 628.87 637.78 646.68 655.59 664.49 673.4 682.3 691.21 700.11 709.02 717.92 726.83 735.74M882.93 94.55V103.46 112.36 121.27 130.17 139.08 147.98 156.89 165.79 174.7 183.6 192.51 201.41 210.32 219.22 228.13 237.04 245.94 254.85 263.75 272.66 281.56 290.47 299.37 308.28 317.18 326.09 334.99 343.9 352.81 361.71 370.62 379.52 388.43 397.33 406.24 415.14 424.05 432.95 441.86 450.76 459.67 468.57 477.48 486.39 495.29 504.2 513.1 522.01 530.91 539.82 548.72 557.63 566.53 575.44 584.34 593.25 602.16 611.06 619.97 628.87 637.78 646.68 655.59 664.49 673.4 682.3 691.21 700.11 709.02 717.92 726.83 735.74M895.98 94.55V103.46 112.36 121.27 130.17 139.08 147.98 156.89 165.79 174.7 183.6 192.51 201.41 210.32 219.22 228.13 237.04 245.94 254.85 263.75 272.66 281.56 290.47 299.37 308.28 317.18 326.09 334.99 343.9 352.81 361.71 370.62 379.52 388.43 397.33 406.24 415.14 424.05 432.95 441.86 450.76 459.67 468.57 477.48 486.39 495.29 504.2 513.1 522.01 530.91 539.82 548.72 557.63 566.53 575.44 584.34 593.25 602.16 611.06 619.97 628.87 637.78 646.68 655.59 664.49 673.4 682.3 691.21 700.11 709.02 717.92 726.83 735.74M909.02 94.55V103.46 112.36 121.27 130.17 139.08 147.98 156.89 165.79 174.7 183.6 192.51 201.41 210.32 219.22 228.13 237.04 245.94 254.85 263.75 272.66 281.56 290.47 299.37 308.28 317.18 326.09 334.99 343.9 352.81 361.71 370.62 379.52 388.43 397.33 406.24 415.14 424.05 432.95 441.86 450.76 459.67 468.57 477.48 486.39 495.29 504.2 513.1 522.01 530.91 539.82 548.72 557.63 566.53 575.44 584.34 593.25 602.16 611.06 619.97 628.87 637.78 646.68 655.59 664.49 673.4 682.3 691.21 700.11 709.02 717.92 726.83 735.74M922.07 94.55V103.46 112.36 121.27 130.17 139.08 147.98 156.89 165.79 174.7 183.6 192.51 201.41 210.32 219.22 228.13 237.04 245.94 254.85 263.75 272.66 281.56 290.47 299.37 308.28 317.18 326.09 334.99 343.9 352.81 361.71 370.62 379.52 388.43 397.33 406.24 415.14 424.05 432.95 441.86 450.76 459.67 468.57 477.48 486.39 495.29 504.2 513.1 522.01 530.91 539.82 548.72 557.63 566.53 575.44 584.34 593.25 602.16 611.06 619.97 628.87 637.78 646.68 655.59 664.49 673.4 682.3 691.21 700.11 709.02 717.92 726.83 735.74M935.12 94.55V103.46 112.36 121.27 130.17 139.08 147.98 156.89 165.79 174.7 183.6 192.51 201.41 210.32 219.22 228.13 237.04 245.94 254.85 263.75 272.66 281.56 290.47 299.37 308.28 317.18 326.09 334.99 343.9 352.81 361.71 370.62 379.52 388.43 397.33 406.24 415.14 424.05 432.95 441.86 450.76 459.67 468.57 477.48 486.39 495.29 504.2 513.1 522.01 530.91 539.82 548.72 557.63 566.53 575.44 584.34 593.25 602.16 611.06 619.97 628.87 637.78 646.68 655.59 664.49 673.4 682.3 691.21 700.11 709.02 717.92 726.83 735.74M948.17 94.55V103.46 112.36 121.27 130.17 139.08 147.98 156.89 165.79 174.7 183.6 192.51 201.41 210.32 219.22 228.13 237.04 245.94 254.85 263.75 272.66 281.56 290.47 299.37 308.28 317.18 326.09 334.99 343.9 352.81 361.71 370.62 379.52 388.43 397.33 406.24 415.14 424.05 432.95 441.86 450.76 459.67 468.57 477.48 486.39 495.29 504.2 513.1 522.01 530.91 539.82 548.72 557.63 566.53 575.44 584.34 593.25 602.16 611.06 619.97 628.87 637.78 646.68 655.59 664.49 673.4 682.3 691.21 700.11 709.02 717.92 726.83 735.74M961.22 94.55V103.46 112.36 121.27 130.17 139.08 147.98 156.89 165.79 174.7 183.6 192.51 201.41 210.32 219.22 228.13 237.04 245.94 254.85 263.75 272.66 281.56 290.47 299.37 308.28 317.18 326.09 334.99 343.9 352.81 361.71 370.62 379.52 388.43 397.33 406.24 415.14 424.05 432.95 441.86 450.76 459.67 468.57 477.48 486.39 495.29 504.2 513.1 522.01 530.91 539.82 548.72 557.63 566.53 575.44 584.34 593.25 602.16 611.06 619.97 628.87 637.78 646.68 655.59 664.49 673.4 682.3 691.21 700.11 709.02 717.92 726.83 735.74M974.26 94.55V103.46 112.36 121.27 130.17 139.08 147.98 156.89 165.79 174.7 183.6 192.51 201.41 210.32 219.22 228.13 237.04 245.94 254.85 263.75 272.66 281.56 290.47 299.37 308.28 317.18 326.09 334.99 343.9 352.81 361.71 370.62 379.52 388.43 397.33 406.24 415.14 424.05 432.95 441.86 450.76 459.67 468.57 477.48 486.39 495.29 504.2 513.1 522.01 530.91 539.82 548.72 557.63 566.53 575.44 584.34 593.25 602.16 611.06 619.97 628.87 637.78 646.68 655.59 664.49 673.4 682.3 691.21 700.11 709.02 717.92 726.83 735.74M987.31 94.55V103.46 112.36 121.27 130.17 139.08 147.98 156.89 165.79 174.7 183.6 192.51 201.41 210.32 219.22 228.13 237.04 245.94 254.85 263.75 272.66 281.56 290.47 299.37 308.28 317.18 326.09 334.99 343.9 352.81 361.71 370.62 379.52 388.43 397.33 406.24 415.14 424.05 432.95 441.86 450.76 459.67 468.57 477.48 486.39 495.29 504.2 513.1 522.01 530.91 539.82 548.72 557.63 566.53 575.44 584.34 593.25 602.16 611.06 619.97 628.87 637.78 646.68 655.59 664.49 673.4 682.3 691.21 700.11 709.02 717.92 726.83 735.74M1000.36 94.55V103.46 112.36 121.27 130.17 139.08 147.98 156.89 165.79 174.7 183.6 192.51 201.41 210.32 219.22 228.13 237.04 245.94 254.85 263.75 272.66 281.56 290.47 299.37 308.28 317.18 326.09 334.99 343.9 352.81 361.71 370.62 379.52 388.43 397.33 406.24 415.14 424.05 432.95 441.86 450.76 459.67 468.57 477.48 486.39 495.29 504.2 513.1 522.01 530.91 539.82 548.72 557.63 566.53 575.44 584.34 593.25 602.16 611.06 619.97 628.87 637.78 646.68 655.59 664.49 673.4 682.3 691.21 700.11 709.02 717.92 726.83 735.74 744.64M1013.41 94.55V103.46 112.36 121.27 130.17 139.08 147.98 156.89 165.79 174.7 183.6 192.51 201.41 210.32 219.22 228.13 237.04 245.94 254.85 263.75 272.66 281.56 290.47 299.37 308.28 317.18 326.09 334.99 343.9 352.81 361.71 370.62 379.52 388.43 397.33 406.24 415.14 424.05 432.95 441.86 450.76 459.67 468.57 477.48 486.39 495.29 504.2 513.1 522.01 530.91 539.82 548.72 557.63 566.53 575.44 584.34 593.25 602.16 611.06 619.97 628.87 637.78 646.68 655.59 664.49 673.4 682.3 691.21 700.11 709.02 717.92 726.83 735.74 744.64M1026.46 94.55V103.46 112.36 121.27 130.17 139.08 147.98 156.89 165.79 174.7 183.6 192.51 201.41 210.32 219.22 228.13 237.04 245.94 254.85 263.75 272.66 281.56 290.47 299.37 308.28 317.18 326.09 334.99 343.9 352.81 361.71 370.62 379.52 388.43 397.33 406.24 415.14 424.05 432.95 441.86 450.76 459.67 468.57 477.48 486.39 495.29 504.2 513.1 522.01 530.91 539.82 548.72 557.63 566.53 575.44 584.34 593.25 602.16 611.06 619.97 628.87 637.78 646.68 655.59 664.49 673.4 682.3 691.21 700.11 709.02 717.92 726.83 735.74 744.64M1039.5 94.55V103.46 112.36 121.27 130.17 139.08 147.98 156.89 165.79 174.7 183.6 192.51 201.41 210.32 219.22 228.13 237.04 245.94 254.85 263.75 272.66 281.56 290.47 299.37 308.28 317.18 326.09 334.99 343.9 352.81 361.71 370.62 379.52 388.43 397.33 406.24 415.14 424.05 432.95 441.86 450.76 459.67 468.57 477.48 486.39 495.29 504.2 513.1 522.01 530.91 539.82 548.72 557.63 566.53 575.44 584.34 593.25 602.16 611.06 619.97 628.87 637.78 646.68 655.59 664.49 673.4 682.3 691.21 700.11 709.02 717.92 726.83 735.74 744.64M1052.55 94.55V103.46 112.36 121.27 130.17 139.08 147.98 156.89 165.79 174.7 183.6 192.51 201.41 210.32 219.22 228.13 237.04 245.94 254.85 263.75 272.66 281.56 290.47 299.37 308.28 317.18 326.09 334.99 343.9 352.81 361.71 370.62 379.52 388.43 397.33 406.24 415.14 424.05 432.95 441.86 450.76 459.67 468.57 477.48 486.39 495.29 504.2 513.1 522.01 530.91 539.82 548.72 557.63 566.53 575.44 584.34 593.25 602.16 611.06 619.97 628.87 637.78 646.68 655.59 664.49 673.4 682.3 691.21 700.11 709.02 717.92 726.83 735.74 744.64M1065.6 94.55V103.46 112.36 121.27 130.17 139.08 147.98 156.89 165.79 174.7 183.6 192.51 201.41 210.32 219.22 228.13 237.04 245.94 254.85 263.75 272.66 281.56 290.47 299.37 308.28 317.18 326.09 334.99 343.9 352.81 361.71 370.62 379.52 388.43 397.33 406.24 415.14 424.05 432.95 441.86 450.76 459.67 468.57 477.48 486.39 495.29 504.2 513.1 522.01 530.91 539.82 548.72 557.63 566.53 575.44 584.34 593.25 602.16 611.06 619.97 628.87 637.78 646.68 655.59 664.49 673.4 682.3 691.21 700.11 709.02 717.92 726.83 735.74 744.64M1078.65 94.55V103.46 112.36 121.27 130.17 139.08 147.98 156.89 165.79 174.7 183.6 192.51 201.41 210.32 219.22 228.13 237.04 245.94 254.85 263.75 272.66 281.56 290.47 299.37 308.28 317.18 326.09 334.99 343.9 352.81 361.71 370.62 379.52 388.43 397.33 406.24 415.14 424.05 432.95 441.86 450.76 459.67 468.57 477.48 486.39 495.29 504.2 513.1 522.01 530.91 539.82 548.72 557.63 566.53 575.44 584.34 593.25 602.16 611.06 619.97 628.87 637.78 646.68 655.59 664.49 673.4 682.3 691.21 700.11 709.02 717.92 726.83 735.74 744.64M1091.7 94.55V103.46 112.36 121.27 130.17 139.08 147.98 156.89 165.79 174.7 183.6 192.51 201.41 210.32 219.22 228.13 237.04 245.94 254.85 263.75 272.66 281.56 290.47 299.37 308.28 317.18 326.09 334.99 343.9 352.81 361.71 370.62 379.52 388.43 397.33 406.24 415.14 424.05 432.95 441.86 450.76 459.67 468.57 477.48 486.39 495.29 504.2 513.1 522.01 530.91 539.82 548.72 557.63 566.53 575.44 584.34 593.25 602.16 611.06 619.97 628.87 637.78 646.68 655.59 664.49 673.4 682.3 691.21 700.11 709.02 717.92 726.83 735.74 744.64M1104.74 94.55V103.46 112.36 121.27 130.17 139.08 147.98 156.89 165.79 174.7 183.6 192.51 201.41 210.32 219.22 228.13 237.04 245.94 254.85 263.75 272.66 281.56 290.47 299.37 308.28 317.18 326.09 334.99 343.9 352.81 361.71 370.62 379.52 388.43 397.33 406.24 415.14 424.05 432.95 441.86 450.76 459.67 468.57 477.48 486.39 495.29 504.2 513.1 522.01 530.91 539.82 548.72 557.63 566.53 575.44 584.34 593.25 602.16 611.06 619.97 628.87 637.78 646.68 655.59 664.49 673.4 682.3 691.21 700.11 709.02 717.92 726.83 735.74 744.64M1117.79 94.55V103.46 112.36 121.27 130.17 139.08 147.98 156.89 165.79 174.7 183.6 192.51 201.41 210.32 219.22 228.13 237.04 245.94 254.85 263.75 272.66 281.56 290.47 299.37 308.28 317.18 326.09 334.99 343.9 352.81 361.71 370.62 379.52 388.43 397.33 406.24 415.14 424.05 432.95 441.86 450.76 459.67 468.57 477.48 486.39 495.29 504.2 513.1 522.01 530.91 539.82 548.72 557.63 566.53 575.44 584.34 593.25 602.16 611.06 619.97 628.87 637.78 646.68 655.59 664.49 673.4 682.3 691.21 700.11 709.02 717.92 726.83 735.74 744.64M1130.84 94.55V103.46 112.36 121.27 130.17 139.08 147.98 156.89 165.79 174.7 183.6 192.51 201.41 210.32 219.22 228.13 237.04 245.94 254.85 263.75 272.66 281.56 290.47 299.37 308.28 317.18 326.09 334.99 343.9 352.81 361.71 370.62 379.52 388.43 397.33 406.24 415.14 424.05 432.95 441.86 450.76 459.67 468.57 477.48 486.39 495.29 504.2 513.1 522.01 530.91 539.82 548.72 557.63 566.53 575.44 584.34 593.25 602.16 611.06 619.97 628.87 637.78 646.68 655.59 664.49 673.4 682.3 691.21 700.11 709.02 717.92 726.83 735.74 744.64M1143.89 94.55V103.46 112.36 121.27 130.17 139.08 147.98 156.89 165.79 174.7 183.6 192.51 201.41 210.32 219.22 228.13 237.04 245.94 254.85 263.75 272.66 281.56 290.47 299.37 308.28 317.18 326.09 334.99 343.9 352.81 361.71 370.62 379.52 388.43 397.33 406.24 415.14 424.05 432.95 441.86 450.76 459.67 468.57 477.48 486.39 495.29 504.2 513.1 522.01 530.91 539.82 548.72 557.63 566.53 575.44 584.34 593.25 602.16 611.06 619.97 628.87 637.78 646.68 655.59 664.49 673.4 682.3 691.21 700.11 709.02 717.92 726.83 735.74 744.64M1156.94 94.55V103.46 112.36 121.27 130.17 139.08 147.98 156.89 165.79 174.7 183.6 192.51 201.41 210.32 219.22 228.13 237.04 245.94 254.85 263.75 272.66 281.56 290.47 299.37 308.28 317.18 326.09 334.99 343.9 352.81 361.71 370.62 379.52 388.43 397.33 406.24 415.14 424.05 432.95 441.86 450.76 459.67 468.57 477.48 486.39 495.29 504.2 513.1 522.01 530.91 539.82 548.72 557.63 566.53 575.44 584.34 593.25 602.16 611.06 619.97 628.87 637.78 646.68 655.59 664.49 673.4 682.3 691.21 700.11 709.02 717.92 726.83 735.74 744.64M1169.98 94.55V103.46 112.36 121.27 130.17 139.08 147.98 156.89 165.79 174.7 183.6 192.51 201.41 210.32 219.22 228.13 237.04 245.94 254.85 263.75 272.66 281.56 290.47 299.37 308.28 317.18 326.09 334.99 343.9 352.81 361.71 370.62 379.52 388.43 397.33 406.24 415.14 424.05 432.95 441.86 450.76 459.67 468.57 477.48 486.39 495.29 504.2 513.1 522.01 530.91 539.82 548.72 557.63 566.53 575.44 584.34 593.25 602.16 611.06 619.97 628.87 637.78 646.68 655.59 664.49 673.4 682.3 691.21 700.11 709.02 717.92 726.83 735.74 744.64M1183.03 94.55V103.46 112.36 121.27 130.17 139.08 147.98 156.89 165.79 174.7 183.6 192.51 201.41 210.32 219.22 228.13 237.04 245.94 254.85 263.75 272.66 281.56 290.47 299.37 308.28 317.18 326.09 334.99 343.9 352.81 361.71 370.62 379.52 388.43 397.33 406.24 415.14 424.05 432.95 441.86 450.76 459.67 468.57 477.48 486.39 495.29 504.2 513.1 522.01 530.91 539.82 548.72 557.63 566.53 575.44 584.34 593.25 602.16 611.06 619.97 628.87 637.78 646.68 655.59 664.49 673.4 682.3 691.21 700.11 709.02 717.92 726.83 735.74 744.64M1196.08 94.55V103.46 112.36 121.27 130.17 139.08 147.98 156.89 165.79 174.7 183.6 192.51 201.41 210.32 219.22 228.13 237.04 245.94 254.85 263.75 272.66 281.56 290.47 299.37 308.28 317.18 326.09 334.99 343.9 352.81 361.71 370.62 379.52 388.43 397.33 406.24 415.14 424.05 432.95 441.86 450.76 459.67 468.57 477.48 486.39 495.29 504.2 513.1 522.01 530.91 539.82 548.72 557.63 566.53 575.44 584.34 593.25 602.16 611.06 619.97 628.87 637.78 646.68 655.59 664.49 673.4 682.3 691.21 700.11 709.02 717.92 726.83 735.74 744.64M1209.13 94.55V103.46 112.36 121.27 130.17 139.08 147.98 156.89 165.79 174.7 183.6 192.51 201.41 210.32 219.22 228.13 237.04 245.94 254.85 263.75 272.66 281.56 290.47 299.37 308.28 317.18 326.09 334.99 343.9 352.81 361.71 370.62 379.52 388.43 397.33 406.24 415.14 424.05 432.95 441.86 450.76 459.67 468.57 477.48 486.39 495.29 504.2 513.1 522.01 530.91 539.82 548.72 557.63 566.53 575.44 584.34 593.25 602.16 611.06 619.97 628.87 637.78 646.68 655.59 664.49 673.4 682.3 691.21 700.11 709.02 717.92 726.83 735.74 744.64M1222.18 94.55V103.46 112.36 121.27 130.17 139.08 147.98 156.89 165.79 174.7 183.6 192.51 201.41 210.32 219.22 228.13 237.04 245.94 254.85 263.75 272.66 281.56 290.47 299.37 308.28 317.18 326.09 334.99 343.9 352.81 361.71 370.62 379.52 388.43 397.33 406.24 415.14 424.05 432.95 441.86 450.76 459.67 468.57 477.48 486.39 495.29 504.2 513.1 522.01 530.91 539.82 548.72 557.63 566.53 575.44 584.34 593.25 602.16 611.06 619.97 628.87 637.78 646.68 655.59 664.49 673.4 682.3 691.21 700.11 709.02 717.92 726.83 735.74 744.64M1235.22 94.55V103.46 112.36 121.27 130.17 139.08 147.98 156.89 165.79 174.7 183.6 192.51 201.41 210.32 219.22 228.13 237.04 245.94 254.85 263.75 272.66 281.56 290.47 299.37 308.28 317.18 326.09 334.99 343.9 352.81 361.71 370.62 379.52 388.43 397.33 406.24 415.14 424.05 432.95 441.86 450.76 459.67 468.57 477.48 486.39 495.29 504.2 513.1 522.01 530.91 539.82 548.72 557.63 566.53 575.44 584.34 593.25 602.16 611.06 619.97 628.87 637.78 646.68 655.59 664.49 673.4 682.3 691.21 700.11 709.02 717.92 726.83 735.74 744.64M1248.27 94.55V103.46 112.36 121.27 130.17 139.08 147.98 156.89 165.79 174.7 183.6 192.51 201.41 210.32 219.22 228.13 237.04 245.94 254.85 263.75 272.66 281.56 290.47 299.37 308.28 317.18 326.09 334.99 343.9 352.81 361.71 370.62 379.52 388.43 397.33 406.24 415.14 424.05 432.95 441.86 450.76 459.67 468.57 477.48 486.39 495.29 504.2 513.1 522.01 530.91 539.82 548.72 557.63 566.53 575.44 584.34 593.25 602.16 611.06 619.97 628.87 637.78 646.68 655.59 664.49 673.4 682.3 691.21 700.11 709.02 717.92 726.83 735.74 744.64 753.55M1261.32 94.55V103.46 112.36 121.27 130.17 139.08 147.98 156.89 165.79 174.7 183.6 192.51 201.41 210.32 219.22 228.13 237.04 245.94 254.85 263.75 272.66 281.56 290.47 299.37 308.28 317.18 326.09 334.99 343.9 352.81 361.71 370.62 379.52 388.43 397.33 406.24 415.14 424.05 432.95 441.86 450.76 459.67 468.57 477.48 486.39 495.29 504.2 513.1 522.01 530.91 539.82 548.72 557.63 566.53 575.44 584.34 593.25 602.16 611.06 619.97 628.87 637.78 646.68 655.59 664.49 673.4 682.3 691.21 700.11 709.02 717.92 726.83 735.74 744.64 753.55M1274.37 94.55V103.46 112.36 121.27 130.17 139.08 147.98 156.89 165.79 174.7 183.6 192.51 201.41 210.32 219.22 228.13 237.04 245.94 254.85 263.75 272.66 281.56 290.47 299.37 308.28 317.18 326.09 334.99 343.9 352.81 361.71 370.62 379.52 388.43 397.33 406.24 415.14 424.05 432.95 441.86 450.76 459.67 468.57 477.48 486.39 495.29 504.2 513.1 522.01 530.91 539.82 548.72 557.63 566.53 575.44 584.34 593.25 602.16 611.06 619.97 628.87 637.78 646.68 655.59 664.49 673.4 682.3 691.21 700.11 709.02 717.92 726.83 735.74 744.64 753.55M1287.42 94.55V103.46 112.36 121.27 130.17 139.08 147.98 156.89 165.79 174.7 183.6 192.51 201.41 210.32 219.22 228.13 237.04 245.94 254.85 263.75 272.66 281.56 290.47 299.37 308.28 317.18 326.09 334.99 343.9 352.81 361.71 370.62 379.52 388.43 397.33 406.24 415.14 424.05 432.95 441.86 450.76 459.67 468.57 477.48 486.39 495.29 504.2 513.1 522.01 530.91 539.82 548.72 557.63 566.53 575.44 584.34 593.25 602.16 611.06 619.97 628.87 637.78 646.68 655.59 664.49 673.4 682.3 691.21 700.11 709.02 717.92 726.83 735.74 744.64 753.55M1300.46 94.55V103.46 112.36 121.27 130.17 139.08 147.98 156.89 165.79 174.7 183.6 192.51 201.41 210.32 219.22 228.13 237.04 245.94 254.85 263.75 272.66 281.56 290.47 299.37 308.28 317.18 326.09 334.99 343.9 352.81 361.71 370.62 379.52 388.43 397.33 406.24 415.14 424.05 432.95 441.86 450.76 459.67 468.57 477.48 486.39 495.29 504.2 513.1 522.01 530.91 539.82 548.72 557.63 566.53 575.44 584.34 593.25 602.16 611.06 619.97 628.87 637.78 646.68 655.59 664.49 673.4 682.3 691.21 700.11 709.02 717.92 726.83 735.74 744.64 753.55M1313.51 94.55V103.46 112.36 121.27 130.17 139.08 147.98 156.89 165.79 174.7 183.6 192.51 201.41 210.32 219.22 228.13 237.04 245.94 254.85 263.75 272.66 281.56 290.47 299.37 308.28 317.18 326.09 334.99 343.9 352.81 361.71 370.62 379.52 388.43 397.33 406.24 415.14 424.05 432.95 441.86 450.76 459.67 468.57 477.48 486.39 495.29 504.2 513.1 522.01 530.91 539.82 548.72 557.63 566.53 575.44 584.34 593.25 602.16 611.06 619.97 628.87 637.78 646.68 655.59 664.49 673.4 682.3 691.21 700.11 709.02 717.92 726.83 735.74 744.64 753.55M1326.56 94.55V103.46 112.36 121.27 130.17 139.08 147.98 156.89 165.79 174.7 183.6 192.51 201.41 210.32 219.22 228.13 237.04 245.94 254.85 263.75 272.66 281.56 290.47 299.37 308.28 317.18 326.09 334.99 343.9 352.81 361.71 370.62 379.52 388.43 397.33 406.24 415.14 424.05 432.95 441.86 450.76 459.67 468.57 477.48 486.39 495.29 504.2 513.1 522.01 530.91 539.82 548.72 557.63 566.53 575.44 584.34 593.25 602.16 611.06 619.97 628.87 637.78 646.68 655.59 664.49 673.4 682.3 691.21 700.11 709.02 717.92 726.83 735.74 744.64 753.55M1339.61 94.55V103.46 112.36 121.27 130.17 139.08 147.98 156.89 165.79 174.7 183.6 192.51 201.41 210.32 219.22 228.13 237.04 245.94 254.85 263.75 272.66 281.56 290.47 299.37 308.28 317.18 326.09 334.99 343.9 352.81 361.71 370.62 379.52 388.43 397.33 406.24 415.14 424.05 432.95 441.86 450.76 459.67 468.57 477.48 486.39 495.29 504.2 513.1 522.01 530.91 539.82 548.72 557.63 566.53 575.44 584.34 593.25 602.16 611.06 619.97 628.87 637.78 646.68 655.59 664.49 673.4 682.3 691.21 700.11 709.02 717.92 726.83 735.74 744.64 753.55M1352.66 94.55V103.46 112.36 121.27 130.17 139.08 147.98 156.89 165.79 174.7 183.6 192.51 201.41 210.32 219.22 228.13 237.04 245.94 254.85 263.75 272.66 281.56 290.47 299.37 308.28 317.18 326.09 334.99 343.9 352.81 361.71 370.62 379.52 388.43 397.33 406.24 415.14 424.05 432.95 441.86 450.76 459.67 468.57 477.48 486.39 495.29 504.2 513.1 522.01 530.91 539.82 548.72 557.63 566.53 575.44 584.34 593.25 602.16 611.06 619.97 628.87 637.78 646.68 655.59 664.49 673.4 682.3 691.21 700.11 709.02 717.92 726.83 735.74 744.64 753.55M1365.7 94.55V103.46 112.36 121.27 130.17 139.08 147.98 156.89 165.79 174.7 183.6 192.51 201.41 210.32 219.22 228.13 237.04 245.94 254.85 263.75 272.66 281.56 290.47 299.37 308.28 317.18 326.09 334.99 343.9 352.81 361.71 370.62 379.52 388.43 397.33 406.24 415.14 424.05 432.95 441.86 450.76 459.67 468.57 477.48 486.39 495.29 504.2 513.1 522.01 530.91 539.82 548.72 557.63 566.53 575.44 584.34 593.25 602.16 611.06 619.97 628.87 637.78 646.68 655.59 664.49 673.4 682.3 691.21 700.11 709.02 717.92 726.83 735.74 744.64 753.55M1378.75 94.55V103.46 112.36 121.27 130.17 139.08 147.98 156.89 165.79 174.7 183.6 192.51 201.41 210.32 219.22 228.13 237.04 245.94 254.85 263.75 272.66 281.56 290.47 299.37 308.28 317.18 326.09 334.99 343.9 352.81 361.71 370.62 379.52 388.43 397.33 406.24 415.14 424.05 432.95 441.86 450.76 459.67 468.57 477.48 486.39 495.29 504.2 513.1 522.01 530.91 539.82 548.72 557.63 566.53 575.44 584.34 593.25 602.16 611.06 619.97 628.87 637.78 646.68 655.59 664.49 673.4 682.3 691.21 700.11 709.02 717.92 726.83 735.74 744.64 753.55M1391.8 94.55V103.46 112.36 121.27 130.17 139.08 147.98 156.89 165.79 174.7 183.6 192.51 201.41 210.32 219.22 228.13 237.04 245.94 254.85 263.75 272.66 281.56 290.47 299.37 308.28 317.18 326.09 334.99 343.9 352.81 361.71 370.62 379.52 388.43 397.33 406.24 415.14 424.05 432.95 441.86 450.76 459.67 468.57 477.48 486.39 495.29 504.2 513.1 522.01 530.91 539.82 548.72 557.63 566.53 575.44 584.34 593.25 602.16 611.06 619.97 628.87 637.78 646.68 655.59 664.49 673.4 682.3 691.21 700.11 709.02 717.92 726.83 735.74 744.64 753.55" fill="none" stroke="none" marker-start="url(#r)" marker-mid="url(#r)" marker-end="url(#r)"/>
<path d="M100.05 89.55V981.18M113.1 89.55V981.18M126.15 89.55V981.18M139.19 107.36V981.18M152.24 276.56V981.18M165.29 374.52V981.18M178.34 436.86V981.18M191.39 481.39V981.18M204.43 517.01V981.18M217.48 543.72V981.18M230.53 561.53V981.18M243.58 579.34V981.18M256.63 597.16V981.18M269.67 606.06V981.18M282.72 623.87V981.18M295.77 632.78V981.18M308.82 641.68V981.18M321.87 641.68V981.18M334.91 650.59V981.18M347.96 659.49V981.18M361.01 659.49V981.18M374.06 668.4V981.18M387.11 668.4V981.18M400.15 677.3V981.18M413.2 677.3V981.18M426.25 686.21V981.18M439.3 686.21V981.18M452.35 695.11V981.18M465.39 695.11V981.18M478.44 695.11V981.18M491.49 695.11V981.18M504.54 704.02V981.18M517.59 704.02V981.18M530.63 704.02V981.18M543.68 704.02V981.18M556.73 712.92V981.18M569.78 712.92V981.18M582.83 712.92V981.18M595.87 712.92V981.18M608.92 712.92V981.18M621.97 721.83V981.18M635.02 721.83V981.18M648.07 721.83V981.18M661.11 721.83V981.18M674.16 721.83V981.18M687.21 721.83V981.18M700.26 721.83V981.18M713.31 730.74V981.18M726.35 730.74V981.18M739.4 730.74V981.18M752.45 730.74V981.18M765.5 730.74V981.18M778.54 730.74V981.18M791.59 730.74V981.18M804.64 730.74V981.18M817.69 730.74V981.18M830.74 739.64V981.18M843.78 739.64V981.18M856.83 739.64V981.18M869.88 739.64V981.18M882.93 739.64V981.18M895.98 739.64V981.18M909.02 739.64V981.18M922.07 739.64V981.18M935.12 739.64V981.18M948.17 739.64V981.18M961.22 739.64V981.18M974.26 739.64V981.18M987.31 739.64V981.18M1000.36 748.55V981.18M1013.41 748.55V981.18M1026.46 748.55V981.18M1039.5 748.55V981.18M1052.55 748.55V981.18M1065.6 748.55V981.18M1078.65 748.55V981.18M1091.7 748.55V981.18M1104.74 748.55V981.18M1117.79 748.55V981.18M1130.84 748.55V981.18M1143.89 748.55V981.18M1156.94 748.55V981.18M1169.98 748.55V981.18M1183.03 748.55V981.18M1196.08 748.55V981.18M1209.13 748.55V981.18M1222.18 748.55V981.18M1235.22 748.55V981.18M1248.27 757.45V981.18M1261.32 757.45V981.18M1274.37 757.45V981.18M1287.42 757.45V981.18M1300.46 757.45V981.18M1313.51 757.45V981.18M1326.56 757.45V981.18M1339.61 757.45V981.18M1352.66 757.45V981.18M1365.7 757.45V981.18M1378.75 757.45V981.18M1391.8 757.45V981.18" fill="none" stroke="#231f20" stroke-width="2.0"/>
<path d="M100.05 94.55V103.46 112.36 121.27 130.17 139.08 147.98 156.89 165.79 174.7 183.6 192.51 201.41 210.32 219.22 228.13 237.04 245.94 254.85 263.75 272.66 281.56 290.47 299.37 308.28 317.18 326.09 334.99 343.9 352.81 361.71 370.62 379.52 388.43 397.33 406.24 415.14 424.05 432.95 441.86 450.76 459.67 468.57 477.48 486.39 495.29 504.2 513.1 522.01 530.91 539.82 548.72 557.63 566.53 575.44 584.34 593.25 602.16 611.06 619.97 628.87 637.78 646.68 655.59 664.49 673.4 682.3 691.21 700.11 709.02 717.92 726.83 735.74 744.64 753.55 762.45 771.36 780.26 789.17 798.07 806.98 815.88 824.79 833.69 842.6 851.51 860.41 869.32 878.22 887.13 896.03 904.94 913.84 922.75 931.65 940.56 949.46 958.37 967.27 976.18M113.1 94.55V103.46 112.36 121.27 130.17 139.08 147.98 156.89 165.79 174.7 183.6 192.51 201.41 210.32 219.22 228.13 237.04 245.94 254.85 263.75 272.66 281.56 290.47 299.37 308.28 317.18 326.09 334.99 343.9 352.81 361.71 370.62 379.52 388.43 397.33 406.24 415.14 424.05 432.95 441.86 450.76 459.67 468.57 477.48 486.39 495.29 504.2 513.1 522.01 530.91 539.82 548.72 557.63 566.53 575.44 584.34 593.25 602.16 611.06 619.97 628.87 637.78 646.68 655.59 664.49 673.4 682.3 691.21 700.11 709.02 717.92 726.83 735.74 744.64 753.55 762.45 771.36 780.26 789.17 798.07 806.98 815.88 824.79 833.69 842.6 851.51 860.41 869.32 878.22 887.13 896.03 904.94 913.84 922.75 931.65 940.56 949.46 958.37 967.27 976.18M126.15 94.55V103.46 112.36 121.27 130.17 139.08 147.98 156.89 165.79 174.7 183.6 192.51 201.41 210.32 219.22 228.13 237.04 245.94 254.85 263.75 272.66 281.56 290.47 299.37 308.28 317.18 326.09 334.99 343.9 352.81 361.71 370.62 379.52 388.43 397.33 406.24 415.14 424.05 432.95 441.86 450.76 459.67 468.57 477.48 486.39 495.29 504.2 513.1 522.01 530.91 539.82 548.72 557.63 566.53 575.44 584.34 593.25 602.16 611.06 619.97 628.87 637.78 646.68 655.59 664.49 673.4 682.3 691.21 700.11 709.02 717.92 726.83 735.74 744.64 753.55 762.45 771.36 780.26 789.17 798.07 806.98 815.88 824.79 833.69 842.6 851.51 860.41 869.32 878.22 887.13 896.03 904.94 913.84 922.75 931.65 940.56 949.46 958.37 967.27 976.18M139.19 112.36V121.27 130.17 139.08 147.98 156.89 165.79 174.7 183.6 192.51 201.41 210.32 219.22 228.13 237.04 245.94 254.85 263.75 272.66 281.56 290.47 299.37 308.28 317.18 326.09 334.99 343.9 352.81 361.71 370.62 379.52 388.43 397.33 406.24 415.14 424.05 432.95 441.86 450.76 459.67 468.57 477.48 486.39 495.29 504.2 513.1 522.01 530.91 539.82 548.72 557.63 566.53 575.44 584.34 593.25 602.16 611.06 619.97 628.87 637.78 646.68 655.59 664.49 673.4 682.3 691.21 700.11 709.02 717.92 726.83 735.74 744.64 753.55 762.45 771.36 780.26 789.17 798.07 806.98 815.88 824.79 833.69 842.6 851.51 860.41 869.32 878.22 887.13 896.03 904.94 913.84 922.75 931.65 940.56 949.46 958.37 967.27 976.18M152.24 281.56V290.47 299.37 308.28 317.18 326.09 334.99 343.9 352.81 361.71 370.62 379.52 388.43 397.33 406.24 415.14 424.05 432.95 441.86 450.76 459.67 468.57 477.48 486.39 495.29 504.2 513.1 522.01 530.91 539.82 548.72 557.63 566.53 575.44 584.34 593.25 602.16 611.06 619.97 628.87 637.78 646.68 655.59 664.49 673.4 682.3 691.21 700.11 709.02 717.92 726.83 735.74 744.64 753.55 762.45 771.36 780.26 789.17 798.07 806.98 815.88 824.79 833.69 842.6 851.51 860.41 869.32 878.22 887.13 896.03 904.94 913.84 922.75 931.65 940.56 949.46 958.37 967.27 976.18M165.29 379.52V388.43 397.33 406.24 415.14 424.05 432.95 441.86 450.76 459.67 468.57 477.48 486.39 495.29 504.2 513.1 522.01 530.91 539.82 548.72 557.63 566.53 575.44 584.34 593.25 602.16 611.06 619.97 628.87 637.78 646.68 655.59 664.49 673.4 682.3 691.21 700.11 709.02 717.92 726.83 735.74 744.64 753.55 762.45 771.36 780.26 789.17 798.07 806.98 815.88 824.79 833.69 842.6 851.51 860.41 869.32 878.22 887.13 896.03 904.94 913.84 922.75 931.65 940.56 949.46 958.37 967.27 976.18M178.34 441.86V450.76 459.67 468.57 477.48 486.39 495.29 504.2 513.1 522.01 530.91 539.82 548.72 557.63 566.53 575.44 584.34 593.25 602.16 611.06 619.97 628.87 637.78 646.68 655.59 664.49 673.4 682.3 691.21 700.11 709.02 717.92 726.83 735.74 744.64 753.55 762.45 771.36 780.26 789.17 798.07 806.98 815.88 824.79 833.69 842.6 851.51 860.41 869.32 878.22 887.13 896.03 904.94 913.84 922.75 931.65 940.56 949.46 958.37 967.27 976.18M191.39 486.39V495.29 504.2 513.1 522.01 530.91 539.82 548.72 557.63 566.53 575.44 584.34 593.25 602.16 611.06 619.97 628.87 637.78 646.68 655.59 664.49 673.4 682.3 691.21 700.11 709.02 717.92 726.83 735.74 744.64 753.55 762.45 771.36 780.26 789.17 798.07 806.98 815.88 824.79 833.69 842.6 851.51 860.41 869.32 878.22 887.13 896.03 904.94 913.84 922.75 931.65 940.56 949.46 958.37 967.27 976.18M204.43 522.01V530.91 539.82 548.72 557.63 566.53 575.44 584.34 593.25 602.16 611.06 619.97 628.87 637.78 646.68 655.59 664.49 673.4 682.3 691.21 700.11 709.02 717.92 726.83 735.74 744.64 753.55 762.45 771.36 780.26 789.17 798.07 806.98 815.88 824.79 833.69 842.6 851.51 860.41 869.32 878.22 887.13 896.03 904.94 913.84 922.75 931.65 940.56 949.46 958.37 967.27 976.18M217.48 548.72V557.63 566.53 575.44 584.34 593.25 602.16 611.06 619.97 628.87 637.78 646.68 655.59 664.49 673.4 682.3 691.21 700.11 709.02 717.92 726.83 735.74 744.64 753.55 762.45 771.36 780.26 789.17 798.07 806.98 815.88 824.79 833.69 842.6 851.51 860.41 869.32 878.22 887.13 896.03 904.94 913.84 922.75 931.65 940.56 949.46 958.37 967.27 976.18M230.53 566.53V575.44 584.34 593.25 602.16 611.06 619.97 628.87 637.78 646.68 655.59 664.49 673.4 682.3 691.21 700.11 709.02 717.92 726.83 735.74 744.64 753.55 762.45 771.36 780.26 789.17 798.07 806.98 815.88 824.79 833.69 842.6 851.51 860.41 869.32 878.22 887.13 896.03 904.94 913.84 922.75 931.65 940.56 949.46 958.37 967.27 976.18M243.58 584.34V593.25 602.16 611.06 619.97 628.87 637.78 646.68 655.59 664.49 673.4 682.3 691.21 700.11 709.02 717.92 726.83 735.74 744.64 753.55 762.45 771.36 780.26 789.17 798.07 806.98 815.88 824.79 833.69 842.6 851.51 860.41 869.32 878.22 887.13 896.03 904.94 913.84 922.75 931.65 940.56 949.46 958.37 967.27 976.18M256.63 602.16V611.06 619.97 628.87 637.78 646.68 655.59 664.49 673.4 682.3 691.21 700.11 709.02 717.92 726.83 735.74 744.64 753.55 762.45 771.36 780.26 789.17 798.07 806.98 815.88 824.79 833.69 842.6 851.51 860.41 869.32 878.22 887.13 896.03 904.94 913.84 922.75 931.65 940.56 949.46 958.37 967.27 976.18M269.67 611.06V619.97 628.87 637.78 646.68 655.59 664.49 673.4 682.3 691.21 700.11 709.02 717.92 726.83 735.74 744.64 753.55 762.45 771.36 780.26 789.17 798.07 806.98 815.88 824.79 833.69 842.6 851.51 860.41 869.32 878.22 887.13 896.03 904.94 913.84 922.75 931.65 940.56 949.46 958.37 967.27 976.18M282.72 628.87V637.78 646.68 655.59 664.49 673.4 682.3 691.21 700.11 709.02 717.92 726.83 735.74 744.64 753.55 762.45 771.36 780.26 789.17 798.07 806.98 815.88 824.79 833.69 842.6 851.51 860.41 869.32 878.22 887.13 896.03 904.94 913.84 922.75 931.65 940.56 949.46 958.37 967.27 976.18M295.77 637.78V646.68 655.59 664.49 673.4 682.3 691.21 700.11 709.02 717.92 726.83 735.74 744.64 753.55 762.45 771.36 780.26 789.17 798.07 806.98 815.88 824.79 833.69 842.6 851.51 860.41 869.32 878.22 887.13 896.03 904.94 913.84 922.75 931.65 940.56 949.46 958.37 967.27 976.18M308.82 646.68V655.59 664.49 673.4 682.3 691.21 700.11 709.02 717.92 726.83 735.74 744.64 753.55 762.45 771.36 780.26 789.17 798.07 806.98 815.88 824.79 833.69 842.6 851.51 860.41 869.32 878.22 887.13 896.03 904.94 913.84 922.75 931.65 940.56 949.46 958.37 967.27 976.18M321.87 646.68V655.59 664.49 673.4 682.3 691.21 700.11 709.02 717.92 726.83 735.74 744.64 753.55 762.45 771.36 780.26 789.17 798.07 806.98 815.88 824.79 833.69 842.6 851.51 860.41 869.32 878.22 887.13 896.03 904.94 913.84 922.75 931.65 940.56 949.46 958.37 967.27 976.18M334.91 655.59V664.49 673.4 682.3 691.21 700.11 709.02 717.92 726.83 735.74 744.64 753.55 762.45 771.36 780.26 789.17 798.07 806.98 815.88 824.79 833.69 842.6 851.51 860.41 869.32 878.22 887.13 896.03 904.94 913.84 922.75 931.65 940.56 949.46 958.37 967.27 976.18M347.96 664.49V673.4 682.3 691.21 700.11 709.02 717.92 726.83 735.74 744.64 753.55 762.45 771.36 780.26 789.17 798.07 806.98 815.88 824.79 833.69 842.6 851.51 860.41 869.32 878.22 887.13 896.03 904.94 913.84 922.75 931.65 940.56 949.46 958.37 967.27 976.18M361.01 664.49V673.4 682.3 691.21 700.11 709.02 717.92 726.83 735.74 744.64 753.55 762.45 771.36 780.26 789.17 798.07 806.98 815.88 824.79 833.69 842.6 851.51 860.41 869.32 878.22 887.13 896.03 904.94 913.84 922.75 931.65 940.56 949.46 958.37 967.27 976.18M374.06 673.4V682.3 691.21 700.11 709.02 717.92 726.83 735.74 744.64 753.55 762.45 771.36 780.26 789.17 798.07 806.98 815.88 824.79 833.69 842.6 851.51 860.41 869.32 878.22 887.13 896.03 904.94 913.84 922.75 931.65 940.56 949.46 958.37 967.27 976.18M387.11 673.4V682.3 691.21 700.11 709.02 717.92 726.83 735.74 744.64 753.55 762.45 771.36 780.26 789.17 798.07 806.98 815.88 824.79 833.69 842.6 851.51 860.41 869.32 878.22 887.13 896.03 904.94 913.84 922.75 931.65 940.56 949.46 958.37 967.27 976.18M400.15 682.3V691.21 700.11 709.02 717.92 726.83 735.74 744.64 753.55 762.45 771.36 780.26 789.17 798.07 806.98 815.88 824.79 833.69 842.6 851.51 860.41 869.32 878.22 887.13 896.03 904.94 913.84 922.75 931.65 940.56 949.46 958.37 967.27 976.18M413.2 682.3V691.21 700.11 709.02 717.92 726.83 735.74 744.64 753.55 762.45 771.36 780.26 789.17 798.07 806.98 815.88 824.79 833.69 842.6 851.51 860.41 869.32 878.22 887.13 896.03 904.94 913.84 922.75 931.65 940.56 949.46 958.37 967.27 976.18M426.25 691.21V700.11 709.02 717.92 726.83 735.74 744.64 753.55 762.45 771.36 780.26 789.17 798.07 806.98 815.88 824.79 833.69 842.6 851.51 860.41 869.32 878.22 887.13 896.03 904.94 913.84 922.75 931.65 940.56 949.46 958.37 967.27 976.18M439.3 691.21V700.11 709.02 717.92 726.83 735.74 744.64 753.55 762.45 771.36 780.26 789.17 798.07 806.98 815.88 824.79 833.69 842.6 851.51 860.41 869.32 878.22 887.13 896.03 904.94 913.84 922.75 931.65 940.56 949.46 958.37 967.27 976.18M452.35 700.11V709.02 717.92 726.83 735.74 744.64 753.55 762.45 771.36 780.26 789.17 798.07 806.98 815.88 824.79 833.69 842.6 851.51 860.41 869.32 878.22 887.13 896.03 904.94 913.84 922.75 931.65 940.56 949.46 958.37 967.27 976.18M465.39 700.11V709.02 717.92 726.83 735.74 744.64 753.55 762.45 771.36 780.26 789.17 798.07 806.98 815.88 824.79 833.69 842.6 851.51 860.41 869.32 878.22 887.13 896.03 904.94 913.84 922.75 931.65 940.56 949.46 958.37 967.27 976.18M478.44 700.11V709.02 717.92 726.83 735.74 744.64 753.55 762.45 771.36 780.26 789.17 798.07 806.98 815.88 824.79 833.69 842.6 851.51 860.41 869.32 878.22 887.13 896.03 904.94 913.84 922.75 931.65 940.56 949.46 958.37 967.27 976.18M491.49 700.11V709.02 717.92 726.83 735.74 744.64 753.55 762.45 771.36 780.26 789.17 798.07 806.98 815.88 824.79 833.69 842.6 851.51 860.41 869.32 878.22 887.13 896.03 904.94 913.84 922.75 931.65 940.56 949.46 958.37 967.27 976.18M504.54 709.02V717.92 726.83 735.74 744.64 753.55 762.45 771.36 780.26 789.17 798.07 806.98 815.88 824.79 833.69 842.6 851.51 860.41 869.32 878.22 887.13 896.03 904.94 913.84 922.75 931.65 940.56 949.46 958.37 967.27 976.18M517.59 709.02V717.92 726.83 735.74 744.64 753.55 762.45 771.36 780.26 789.17 798.07 806.98 815.88 824.79 833.69 842.6 851.51 860.41 869.32 878.22 887.13 896.03 904.94 913.84 922.75 931.65 940.56 949.46 958.37 967.27 976.18M530.63 709.02V717.92 726.83 735.74 744.64 753.55 762.45 771.36 780.26 789.17 798.07 806.98 815.88 824.79 833.69 842.6 851.51 860.41 869.32 878.22 887.13 896.03 904.94 913.84 922.75 931.65 940.56 949.46 958.37 967.27 976.18M543.68 709.02V717.92 726.83 735.74 744.64 753.55 762.45 771.36 780.26 789.17 798.07 806.98 815.88 824.79 833.69 842.6 851.51 860.41 869.32 878.22 887.13 896.03 904.94 913.84 922.75 931.65 940.56 949.46 958.37 967.27 976.18M556.73 717.92V726.83 735.74 744.64 753.55 762.45 771.36 780.26 789.17 798.07 806.98 815.88 824.79 833.69 842.6 851.51 860.41 869.32 878.22 887.13 896.03 904.94 913.84 922.75 931.65 940.56 949.46 958.37 967.27 976.18M569.78 717.92V726.83 735.74 744.64 753.55 762.45 771.36 780.26 789.17 798.07 806.98 815.88 824.79 833.69 842.6 851.51 860.41 869.32 878.22 887.13 896.03 904.94 913.84 922.75 931.65 940.56 949.46 958.37 967.27 976.18M582.83 717.92V726.83 735.74 744.64 753.55 762.45 771.36 780.26 789.17 798.07 806.98 815.88 824.79 833.69 842.6 851.51 860.41 869.32 878.22 887.13 896.03 904.94 913.84 922.75 931.65 940.56 949.46 958.37 967.27 976.18M595.87 717.92V726.83 735.74 744.64 753.55 762.45 771.36 780.26 789.17 798.07 806.98 815.88 824.79 833.69 842.6 851.51 860.41 869.32 878.22 887.13 896.03 904.94 913.84 922.75 931.65 940.56 949.46 958.37 967.27 976.18M608.92 717.92V726.83 735.74 744.64 753.55 762.45 771.36 780.26 789.17 798.07 806.98 815.88 824.79 833.69 842.6 851.51 860.41 869.32 878.22 887.13 896.03 904.94 913.84 922.75 931.65 940.56 949.46 958.37 967.27 976.18M621.97 726.83V735.74 744.64 753.55 762.45 771.36 780.26 789.17 798.07 806.98 815.88 824.79 833.69 842.6 851.51 860.41 869.32 878.22 887.13 896.03 904.94 913.84 922.75 931.65 940.56 949.46 958.37 967.27 976.18M635.02 726.83V735.74 744.64 753.55 762.45 771.36 780.26 789.17 798.07 806.98 815.88 824.79 833.69 842.6 851.51 860.41 869.32 878.22 887.13 896.03 904.94 913.84 922.75 931.65 940.56 949.46 958.37 967.27 976.18M648.07 726.83V735.74 744.64 753.55 762.45 771.36 780.26 789.17 798.07 806.98 815.88 824.79 833.69 842.6 851.51 860.41 869.32 878.22 887.13 896.03 904.94 913.84 922.75 931.65 940.56 949.46 958.37 967.27 976.18M661.11 726.83V735.74 744.64 753.55 762.45 771.36 780.26 789.17 798.07 806.98 815.88 824.79 833.69 842.6 851.51 860.41 869.32 878.22 887.13 896.03 904.94 913.84 922.75 931.65 940.56 949.46 958.37 967.27 976.18M674.16 726.83V735.74 744.64 753.55 762.45 771.36 780.26 789.17 798.07 806.98 815.88 824.79 833.69 842.6 851.51 860.41 869.32 878.22 887.13 896.03 904.94 913.84 922.75 931.65 940.56 949.46 958.37 967.27 976.18M687.21 726.83V735.74 744.64 753.55 762.45 771.36 780.26 789.17 798.07 806.98 815.88 824.79 833.69 842.6 851.51 860.41 869.32 878.22 887.13 896.03 904.94 913.84 922.75 931.65 940.56 949.46 958.37 967.27 976.18M700.26 726.83V735.74 744.64 753.55 762.45 771.36 780.26 789.17 798.07 806.98 815.88 824.79 833.69 842.6 851.51 860.41 869.32 878.22 887.13 896.03 904.94 913.84 922.75 931.65 940.56 949.46 958.37 967.27 976.18M713.31 735.74V744.64 753.55 762.45 771.36 780.26 789.17 798.07 806.98 815.88 824.79 833.69 842.6 851.51 860.41 869.32 878.22 887.13 896.03 904.94 913.84 922.75 931.65 940.56 949.46 958.37 967.27 976.18M726.35 735.74V744.64 753.55 762.45 771.36 780.26 789.17 798.07 806.98 815.88 824.79 833.69 842.6 851.51 860.41 869.32 878.22 887.13 896.03 904.94 913.84 922.75 931.65 940.56 949.46 958.37 967.27 976.18M739.4 735.74V744.64 753.55 762.45 771.36 780.26 789.17 798.07 806.98 815.88 824.79 833.69 842.6 851.51 860.41 869.32 878.22 887.13 896.03 904.94 913.84 922.75 931.65 940.56 949.46 958.37 967.27 976.18M752.45 735.74V744.64 753.55 762.45 771.36 780.26 789.17 798.07 806.98 815.88 824.79 833.69 842.6 851.51 860.41 869.32 878.22 887.13 896.03 904.94 913.84 922.75 931.65 940.56 949.46 958.37 967.27 976.18M765.5 735.74V744.64 753.55 762.45 771.36 780.26 789.17 798.07 806.98 815.88 824.79 833.69 842.6 851.51 860.41 869.32 878.22 887.13 896.03 904.94 913.84 922.75 931.65 940.56 949.46 958.37 967.27 976.18M778.54 735.74V744.64 753.55 762.45 771.36 780.26 789.17 798.07 806.98 815.88 824.79 833.69 842.6 851.51 860.41 869.32 878.22 887.13 896.03 904.94 913.84 922.75 931.65 940.56 949.46 958.37 967.27 976.18M791.59 735.74V744.64 753.55 762.45 771.36 780.26 789.17 798.07 806.98 815.88 824.79 833.69 842.6 851.51 860.41 869.32 878.22 887.13 896.03 904.94 913.84 922.75 931.65 940.56 949.46 958.37 967.27 976.18M804.64 735.74V744.64 753.55 762.45 771.36 780.26 789.17 798.07 806.98 815.88 824.79 833.69 842.6 851.51 860.41 869.32 878.22 887.13 896.03 904.94 913.84 922.75 931.65 940.56 949.46 958.37 967.27 976.18M817.69 735.74V744.64 753.55 762.45 771.36 780.26 789.17 798.07 806.98 815.88 824.79 833.69 842.6 851.51 860.41 869.32 878.22 887.13 896.03 904.94 913.84 922.75 931.65 940.56 949.46 958.37 967.27 976.18M830.74 744.64V753.55 762.45 771.36 780.26 789.17 798.07 806.98 815.88 824.79 833.69 842.6 851.51 860.41 869.32 878.22 887.13 896.03 904.94 913.84 922.75 931.65 940.56 949.46 958.37 967.27 976.18M843.78 744.64V753.55 762.45 771.36 780.26 789.17 798.07 806.98 815.88 824.79 833.69 842.6 851.51 860.41 869.32 878.22 887.13 896.03 904.94 913.84 922.75 931.65 940.56 949.46 958.37 967.27 976.18M856.83 744.64V753.55 762.45 771.36 780.26 789.17 798.07 806.98 815.88 824.79 833.69 842.6 851.51 860.41 869.32 878.22 887.13 896.03 904.94 913.84 922.75 931.65 940.56 949.46 958.37 967.27 976.18M869.88 744.64V753.55 762.45 771.36 780.26 789.17 798.07 806.98 815.88 824.79 833.69 842.6 851.51 860.41 869.32 878.22 887.13 896.03 904.94 913.84 922.75 931.65 940.56 949.46 958.37 967.27 976.18M882.93 744.64V753.55 762.45 771.36 780.26 789.17 798.07 806.98 815.88 824.79 833.69 842.6 851.51 860.41 869.32 878.22 887.13 896.03 904.94 913.84 922.75 931.65 940.56 949.46 958.37 967.27 976.18M895.98 744.64V753.55 762.45 771.36 780.26 789.17 798.07 806.98 815.88 824.79 833.69 842.6 851.51 860.41 869.32 878.22 887.13 896.03 904.94 913.84 922.75 931.65 940.56 949.46 958.37 967.27 976.18M909.02 744.64V753.55 762.45 771.36 780.26 789.17 798.07 806.98 815.88 824.79 833.69 842.6 851.51 860.41 869.32 878.22 887.13 896.03 904.94 913.84 922.75 931.65 940.56 949.46 958.37 967.27 976.18M922.07 744.64V753.55 762.45 771.36 780.26 789.17 798.07 806.98 815.88 824.79 833.69 842.6 851.51 860.41 869.32 878.22 887.13 896.03 904.94 913.84 922.75 931.65 940.56 949.46 958.37 967.27 976.18M935.12 744.64V753.55 762.45 771.36 780.26 789.17 798.07 806.98 815.88 824.79 833.69 842.6 851.51 860.41 869.32 878.22 887.13 896.03 904.94 913.84 922.75 931.65 940.56 949.46 958.37 967.27 976.18M948.17 744.64V753.55 762.45 771.36 780.26 789.17 798.07 806.98 815.88 824.79 833.69 842.6 851.51 860.41 869.32 878.22 887.13 896.03 904.94 913.84 922.75 931.65 940.56 949.46 958.37 967.27 976.18M961.22 744.64V753.55 762.45 771.36 780.26 789.17 798.07 806.98 815.88 824.79 833.69 842.6 851.51 860.41 869.32 878.22 887.13 896.03 904.94 913.84 922.75 931.65 940.56 949.46 958.37 967.27 976.18M974.26 744.64V753.55 762.45 771.36 780.26 789.17 798.07 806.98 815.88 824.79 833.69 842.6 851.51 860.41 869.32 878.22 887.13 896.03 904.94 913.84 922.75 931.65 940.56 949.46 958.37 967.27 976.18M987.31 744.64V753.55 762.45 771.36 780.26 789.17 798.07 806.98 815.88 824.79 833.69 842.6 851.51 860.41 869.32 878.22 887.13 896.03 904.94 913.84 922.75 931.65 940.56 949.46 958.37 967.27 976.18M1000.36 753.55V762.45 771.36 780.26 789.17 798.07 806.98 815.88 824.79 833.69 842.6 851.51 860.41 869.32 878.22 887.13 896.03 904.94 913.84 922.75 931.65 940.56 949.46 958.37 967.27 976.18M1013.41 753.55V762.45 771.36 780.26 789.17 798.07 806.98 815.88 824.79 833.69 842.6 851.51 860.41 869.32 878.22 887.13 896.03 904.94 913.84 922.75 931.65 940.56 949.46 958.37 967.27 976.18M1026.46 753.55V762.45 771.36 780.26 789.17 798.07 806.98 815.88 824.79 833.69 842.6 851.51 860.41 869.32 878.22 887.13 896.03 904.94 913.84 922.75 931.65 940.56 949.46 958.37 967.27 976.18M1039.5 753.55V762.45 771.36 780.26 789.17 798.07 806.98 815.88 824.79 833.69 842.6 851.51 860.41 869.32 878.22 887.13 896.03 904.94 913.84 922.75 931.65 940.56 949.46 958.37 967.27 976.18M1052.55 753.55V762.45 771.36 780.26 789.17 798.07 806.98 815.88 824.79 833.69 842.6 851.51 860.41 869.32 878.22 887.13 896.03 904.94 913.84 922.75 931.65 940.56 949.46 958.37 967.27 976.18M1065.6 753.55V762.45 771.36 780.26 789.17 798.07 806.98 815.88 824.79 833.69 842.6 851.51 860.41 869.32 878.22 887.13 896.03 904.94 913.84 922.75 931.65 940.56 949.46 958.37 967.27 976.18M1078.65 753.55V762.45 771.36 780.26 789.17 798.07 806.98 815.88 824.79 833.69 842.6 851.51 860.41 869.32 878.22 887.13 896.03 904.94 913.84 922.75 931.65 940.56 949.46 958.37 967.27 976.18M1091.7 753.55V762.45 771.36 780.26 789.17 798.07 806.98 815.88 824.79 833.69 842.6 851.51 860.41 869.32 878.22 887.13 896.03 904.94 913.84 922.75 931.65 940.56 949.46 958.37 967.27 976.18M1104.74 753.55V762.45 771.36 780.26 789.17 798.07 806.98 815.88 824.79 833.69 842.6 851.51 860.41 869.32 878.22 887.13 896.03 904.94 913.84 922.75 931.65 940.56 949.46 958.37 967.27 976.18M1117.79 753.55V762.45 771.36 780.26 789.17 798.07 806.98 815.88 824.79 833.69 842.6 851.51 860.41 869.32 878.22 887.13 896.03 904.94 913.84 922.75 931.65 940.56 949.46 958.37 967.27 976.18M1130.84 753.55V762.45 771.36 780.26 789.17 798.07 806.98 815.88 824.79 833.69 842.6 851.51 860.41 869.32 878.22 887.13 896.03 904.94 913.84 922.75 931.65 940.56 949.46 958.37 967.27 976.18M1143.89 753.55V762.45 771.36 780.26 789.17 798.07 806.98 815.88 824.79 833.69 842.6 851.51 860.41 869.32 878.22 887.13 896.03 904.94 913.84 922.75 931.65 940.56 949.46 958.37 967.27 976.18M1156.94 753.55V762.45 771.36 780.26 789.17 798.07 806.98 815.88 824.79 833.69 842.6 851.51 860.41 869.32 878.22 887.13 896.03 904.94 913.84 922.75 931.65 940.56 949.46 958.37 967.27 976.18M1169.98 753.55V762.45 771.36 780.26 789.17 798.07 806.98 815.88 824.79 833.69 842.6 851.51 860.41 869.32 878.22 887.13 896.03 904.94 913.84 922.75 931.65 940.56 949.46 958.37 967.27 976.18M1183.03 753.55V762.45 771.36 780.26 789.17 798.07 806.98 815.88 824.79 833.69 842.6 851.51 860.41 869.32 878.22 887.13 896.03 904.94 913.84 922.75 931.65 940.56 949.46 958.37 967.27 976.18M1196.08 753.55V762.45 771.36 780.26 789.17 798.07 806.98 815.88 824.79 833.69 842.6 851.51 860.41 869.32 878.22 887.13 896.03 904.94 913.84 922.75 931.65 940.56 949.46 958.37 967.27 976.18M1209.13 753.55V762.45 771.36 780.26 789.17 798.07 806.98 815.88 824.79 833.69 842.6 851.51 860.41 869.32 878.22 887.13 896.03 904.94 913.84 922.75 931.65 940.56 949.46 958.37 967.27 976.18M1222.18 753.55V762.45 771.36 780.26 789.17 798.07 806.98 815.88 824.79 833.69 842.6 851.51 860.41 869.32 878.22 887.13 896.03 904.94 913.84 922.75 931.65 940.56 949.46 958.37 967.27 976.18M1235.22 753.55V762.45 771.36 780.26 789.17 798.07 806.98 815.88 824.79 833.69 842.6 851.51 860.41 869.32 878.22 887.13 896.03 904.94 913.84 922.75 931.65 940.56 949.46 958.37 967.27 976.18M1248.27 762.45V771.36 780.26 789.17 798.07 806.98 815.88 824.79 833.69 842.6 851.51 860.41 869.32 878.22 887.13 896.03 904.94 913.84 922.75 931.65 940.56 949.46 958.37 967.27 976.18M1261.32 762.45V771.36 780.26 789.17 798.07 806.98 815.88 824.79 833.69 842.6 851.51 860.41 869.32 878.22 887.13 896.03 904.94 913.84 922.75 931.65 940.56 949.46 958.37 967.27 976.18M1274.37 762.45V771.36 780.26 789.17 798.07 806.98 815.88 824.79 833.69 842.6 851.51 860.41 869.32 878.22 887.13 896.03 904.94 913.84 922.75 931.65 940.56 949.46 958.37 967.27 976.18M1287.42 762.45V771.36 780.26 789.17 798.07 806.98 815.88 824.79 833.69 842.6 851.51 860.41 869.32 878.22 887.13 896.03 904.94 913.84 922.75 931.65 940.56 949.46 958.37 967.27 976.18M1300.46 762.45V771.36 780.26 789.17 798.07 806.98 815.88 824.79 833.69 842.6 851.51 860.41 869.32 878.22 887.13 896.03 904.94 913.84 922.75 931.65 940.56 949.46 958.37 967.27 976.18M1313.51 762.45V771.36 780.26 789.17 798.07 806.98 815.88 824.79 833.69 842.6 851.51 860.41 869.32 878.22 887.13 896.03 904.94 913.84 922.75 931.65 940.56 949.46 958.37 967.27 976.18M1326.56 762.45V771.36 780.26 789.17 798.07 806.98 815.88 824.79 833.69 842.6 851.51 860.41 869.32 878.22 887.13 896.03 904.94 913.84 922.75 931.65 940.56 949.46 958.37 967.27 976.18M1339.61 762.45V771.36 780.26 789.17 798.07 806.98 815.88 824.79 833.69 842.6 851.51 860.41 869.32 878.22 887.13 896.03 904.94 913.84 922.75 931.65 940.56 949.46 958.37 967.27 976.18M1352.66 762.45V771.36 780.26 789.17 798.07 806.98 815.88 824.79 833.69 842.6 851.51 860.41 869.32 878.22 887.13 896.03 904.94 913.84 922.75 931.65 940.56 949.46 958.37 967.27 976.18M1365.7 762.45V771.36 780.26 789.17 798.07 806.98 815.88 824.79 833.69 842.6 851.51 860.41 869.32 878.22 887.13 896.03 904.94 913.84 922.75 931.65 940.56 949.46 958.37 967.27 976.18M1378.75 762.45V771.36 780.26 789.17 798.07 806.98 815.88 824.79 833.69 842.6 851.51 860.41 869.32 878.22 887.13 896.03 904.94 913.84 922.75 931.65 940.56 949.46 958.37 967.27 976.18M1391.8 762.45V771.36 780.26 789.17 798.07 806.98 815.88 824.79 833.69 842.6 851.51 860.41 869.32 878.22 887.13 896.03 904.94 913.84 922.75 931.65 940.56 949.46 958.37 967.27 976.18" fill="none" stroke="none" marker-start="url(#k)" marker-mid="url(#k)" marker-end="url(#k)"/>
<text transform="translate(3.64 989.38) scale(0.96 1)" font-size="44" x="0 22.11 30.62 50.1">0.10</text>
<text transform="translate(5.64 901.22) scale(0.96 1)" font-size="44" x="0 22.11 31.25 48.12">0.11</text>
<text transform="translate(4.54 813.05) scale(0.96 1)" font-size="44" x="0 21.74 29.92 48.54">0.12</text>
<text transform="translate(5.64 724.89) scale(0.96 1)" font-size="44" x="0 21.28 29.06 47.5">0.13</text>
<text transform="translate(3.64 636.73) scale(0.96 1)" font-size="44" x="0 22.11 30.62 50.1">0.14</text>
<text transform="translate(4.54 548.57) scale(0.96 1)" font-size="44" x="0 21.74 29.92 48.8">0.15</text>
<text transform="translate(3.64 460.4) scale(0.96 1)" font-size="44" x="0 22.11 30.62 49.32">0.16</text>
<text transform="translate(5.64 372.24) scale(0.96 1)" font-size="44" x="0 21.28 29.06 46.77">0.17</text>
<text transform="translate(4.54 284.08) scale(0.96 1)" font-size="44" x="0 21.74 29.92 49.17">0.18</text>
<text transform="translate(4.54 195.91) scale(0.96 1)" font-size="44" x="0 21.74 29.92 49.17">0.19</text>
<text transform="translate(-0.16 107.75) scale(0.96 1)" font-size="44" x="0 22.11 33.23 54.06">0.20</text>
<text transform="translate(89.94 1025) scale(0.96 1)" font-size="44" x="0">0</text>
<text transform="translate(209.67 1025) scale(0.96 1)" font-size="44" x="0 18.85">10</text>
<text transform="translate(338.8 1025) scale(0.96 1)" font-size="44" x="0 20.83">20</text>
<text transform="translate(467.93 1025) scale(0.96 1)" font-size="44" x="0 20.83">30</text>
<text transform="translate(597.06 1025) scale(0.96 1)" font-size="44" x="0 20.83">40</text>
<text transform="translate(726.19 1025) scale(0.96 1)" font-size="44" x="0 20.83">50</text>
<text transform="translate(855.32 1025) scale(0.96 1)" font-size="44" x="0 20.83">60</text>
<text transform="translate(984.45 1025) scale(0.96 1)" font-size="44" x="0 20.83">70</text>
<text transform="translate(1113.58 1025) scale(0.96 1)" font-size="44" x="0 20.83">80</text>
<text transform="translate(1242.71 1025) scale(0.96 1)" font-size="44" x="0 20.83">90</text>
<text transform="translate(1362.74 1025) scale(0.96 1)" font-size="44" x="0 18.85 39.69">100</text>
<text y="71.9" font-size="41"><tspan x="567.8" textLength="217.6" lengthAdjust="spacingAndGlyphs">Количество</tspan> <tspan x="793.9" textLength="133.4" lengthAdjust="spacingAndGlyphs">корней</tspan></text>
<text class="g" transform="translate(10.16 52.74) scale(0.8355 1)" font-size="43.63">ζ</text>
<text transform="translate(22.6 39.8) scale(0.786 1)" font-size="48.7">ˆ</text>
<text transform="translate(40.26 55.96) scale(0.9 1)" font-size="33.3">1</text>
<text class="g" transform="translate(1377.6 1089.83) scale(0.9433 1)" font-size="43.75">ξ</text>
<text transform="translate(1390.66 1076.65) scale(0.786 1)" font-size="48.7">ˆ</text>
<text transform="translate(1407.36 1093.1) scale(0.9 1)" font-size="33.3">1</text>
<rect x="1158.35" y="116.1" width="225.2" height="79.65" fill="#fff" stroke="#231f20" stroke-width="2.1"/>
<path d="M1190 137.5h0.01" fill="none" stroke="none" marker-start="url(#lr)"/>
<path d="M1190 174.9h0.01" fill="none" stroke="none" marker-start="url(#lk)"/>
<text y="149.85" font-size="32.4"><tspan x="1205.9" font-size="33.4" textLength="17.45" lengthAdjust="spacingAndGlyphs">2</tspan> <tspan x="1230.26" textLength="88.15" lengthAdjust="spacingAndGlyphs">корня</tspan></text>
<text y="185.85" font-size="32.4"><tspan x="1206.06" textLength="49.97" lengthAdjust="spacingAndGlyphs">нет</tspan> <tspan x="1263.27" textLength="105.5" lengthAdjust="spacingAndGlyphs">корней</tspan></text>
</svg>
</body>
</html>
